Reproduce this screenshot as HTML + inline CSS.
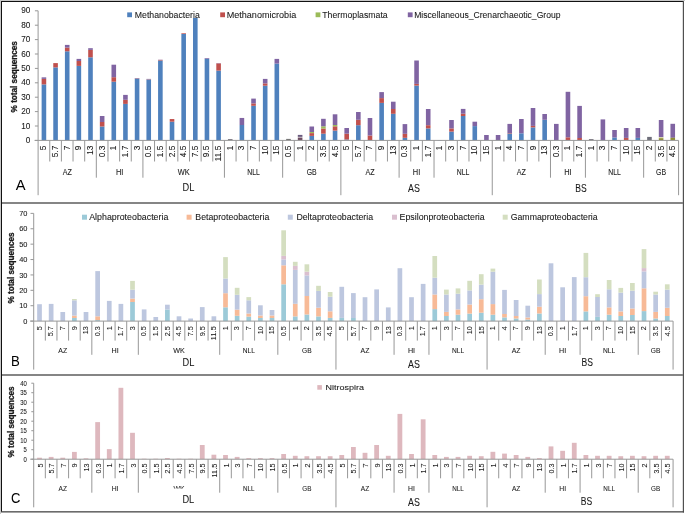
<!DOCTYPE html>
<html><head><meta charset="utf-8"><style>
html,body{margin:0;padding:0;background:#fff;}
svg{display:block;will-change:transform;}
text{font-family:"Liberation Sans", sans-serif;}
</style></head><body>
<svg width="685" height="514" viewBox="0 0 685 514">
<defs><clipPath id="wkclip" clipPathUnits="userSpaceOnUse"><rect x="160" y="480" width="40" height="8.6"/></clipPath></defs>
<rect x="0" y="0" width="685" height="514" fill="#fff"/>
<rect x="41.62" y="84.40" width="4.60" height="56.00" fill="#4F81BD"/>
<rect x="41.62" y="78.90" width="4.60" height="5.50" fill="#C0504D"/>
<rect x="41.62" y="77.35" width="4.60" height="1.55" fill="#8064A2"/>
<rect x="53.27" y="67.40" width="4.60" height="73.00" fill="#4F81BD"/>
<rect x="53.27" y="63.10" width="4.60" height="4.30" fill="#C0504D"/>
<rect x="64.91" y="51.30" width="4.60" height="89.10" fill="#4F81BD"/>
<rect x="64.91" y="47.60" width="4.60" height="3.70" fill="#C0504D"/>
<rect x="64.91" y="44.90" width="4.60" height="2.70" fill="#8064A2"/>
<rect x="76.56" y="65.90" width="4.60" height="74.50" fill="#4F81BD"/>
<rect x="76.56" y="61.00" width="4.60" height="4.90" fill="#C0504D"/>
<rect x="76.56" y="58.90" width="4.60" height="2.10" fill="#8064A2"/>
<rect x="88.20" y="57.30" width="4.60" height="83.10" fill="#4F81BD"/>
<rect x="88.20" y="49.90" width="4.60" height="7.40" fill="#C0504D"/>
<rect x="88.20" y="48.20" width="4.60" height="1.70" fill="#8064A2"/>
<rect x="99.85" y="126.50" width="4.60" height="13.90" fill="#4F81BD"/>
<rect x="99.85" y="122.00" width="4.60" height="4.50" fill="#C0504D"/>
<rect x="99.85" y="116.00" width="4.60" height="6.00" fill="#8064A2"/>
<rect x="111.49" y="81.70" width="4.60" height="58.70" fill="#4F81BD"/>
<rect x="111.49" y="77.20" width="4.60" height="4.50" fill="#C0504D"/>
<rect x="111.49" y="64.70" width="4.60" height="12.50" fill="#8064A2"/>
<rect x="123.14" y="103.90" width="4.60" height="36.50" fill="#4F81BD"/>
<rect x="123.14" y="99.80" width="4.60" height="4.10" fill="#C0504D"/>
<rect x="123.14" y="94.90" width="4.60" height="4.90" fill="#8064A2"/>
<rect x="134.78" y="78.60" width="4.60" height="61.80" fill="#4F81BD"/>
<rect x="134.78" y="78.30" width="4.60" height="0.30" fill="#C0504D"/>
<rect x="134.78" y="78.00" width="4.60" height="0.30" fill="#8064A2"/>
<rect x="146.43" y="79.50" width="4.60" height="60.90" fill="#4F81BD"/>
<rect x="146.43" y="79.20" width="4.60" height="0.30" fill="#C0504D"/>
<rect x="146.43" y="78.90" width="4.60" height="0.30" fill="#8064A2"/>
<rect x="158.07" y="60.50" width="4.60" height="79.90" fill="#4F81BD"/>
<rect x="158.07" y="59.90" width="4.60" height="0.60" fill="#C0504D"/>
<rect x="158.07" y="59.70" width="4.60" height="0.20" fill="#8064A2"/>
<rect x="169.72" y="121.70" width="4.60" height="18.70" fill="#4F81BD"/>
<rect x="169.72" y="119.05" width="4.60" height="2.65" fill="#C0504D"/>
<rect x="181.36" y="34.00" width="4.60" height="106.40" fill="#4F81BD"/>
<rect x="181.36" y="33.30" width="4.60" height="0.70" fill="#C0504D"/>
<rect x="193.01" y="18.00" width="4.60" height="122.40" fill="#4F81BD"/>
<rect x="204.65" y="58.80" width="4.60" height="81.60" fill="#4F81BD"/>
<rect x="204.65" y="58.10" width="4.60" height="0.70" fill="#8064A2"/>
<rect x="216.30" y="70.60" width="4.60" height="69.80" fill="#4F81BD"/>
<rect x="216.30" y="63.40" width="4.60" height="7.20" fill="#C0504D"/>
<rect x="216.30" y="63.10" width="4.60" height="0.30" fill="#8064A2"/>
<rect x="227.94" y="139.10" width="4.60" height="1.30" fill="#77737F"/>
<rect x="239.59" y="125.00" width="4.60" height="15.40" fill="#4F81BD"/>
<rect x="239.59" y="117.95" width="4.60" height="7.05" fill="#8064A2"/>
<rect x="251.23" y="105.80" width="4.60" height="34.60" fill="#4F81BD"/>
<rect x="251.23" y="103.40" width="4.60" height="2.40" fill="#C0504D"/>
<rect x="251.23" y="98.60" width="4.60" height="4.80" fill="#8064A2"/>
<rect x="262.88" y="85.70" width="4.60" height="54.70" fill="#4F81BD"/>
<rect x="262.88" y="83.40" width="4.60" height="2.30" fill="#C0504D"/>
<rect x="262.88" y="78.90" width="4.60" height="4.50" fill="#8064A2"/>
<rect x="274.52" y="63.60" width="4.60" height="76.80" fill="#4F81BD"/>
<rect x="274.52" y="58.90" width="4.60" height="4.70" fill="#8064A2"/>
<rect x="286.17" y="138.90" width="4.60" height="1.50" fill="#737373"/>
<rect x="297.81" y="134.90" width="4.60" height="2.00" fill="#6A5A7E"/>
<rect x="297.81" y="136.90" width="4.60" height="0.80" fill="#CFC2C9"/>
<rect x="297.81" y="137.70" width="4.60" height="2.70" fill="#6E4C62"/>
<rect x="309.46" y="135.90" width="4.60" height="4.50" fill="#4F81BD"/>
<rect x="309.46" y="133.10" width="4.60" height="2.80" fill="#C0504D"/>
<rect x="309.46" y="132.00" width="4.60" height="1.10" fill="#9BBB59"/>
<rect x="309.46" y="126.50" width="4.60" height="5.50" fill="#8064A2"/>
<rect x="321.10" y="133.70" width="4.60" height="6.70" fill="#4F81BD"/>
<rect x="321.10" y="128.50" width="4.60" height="5.20" fill="#C0504D"/>
<rect x="321.10" y="126.30" width="4.60" height="2.20" fill="#9BBB59"/>
<rect x="321.10" y="118.80" width="4.60" height="7.50" fill="#8064A2"/>
<rect x="332.75" y="130.60" width="4.60" height="9.80" fill="#4F81BD"/>
<rect x="332.75" y="126.30" width="4.60" height="4.30" fill="#C0504D"/>
<rect x="332.75" y="125.00" width="4.60" height="1.30" fill="#9BBB59"/>
<rect x="332.75" y="114.30" width="4.60" height="10.70" fill="#8064A2"/>
<rect x="344.39" y="139.50" width="4.60" height="0.90" fill="#4F81BD"/>
<rect x="344.39" y="133.70" width="4.60" height="5.80" fill="#C0504D"/>
<rect x="344.39" y="128.00" width="4.60" height="5.70" fill="#8064A2"/>
<rect x="356.04" y="125.20" width="4.60" height="15.20" fill="#4F81BD"/>
<rect x="356.04" y="119.80" width="4.60" height="5.40" fill="#C0504D"/>
<rect x="356.04" y="112.00" width="4.60" height="7.80" fill="#8064A2"/>
<rect x="367.68" y="140.00" width="4.60" height="0.40" fill="#4F81BD"/>
<rect x="367.68" y="135.50" width="4.60" height="4.50" fill="#C0504D"/>
<rect x="367.68" y="118.00" width="4.60" height="17.50" fill="#8064A2"/>
<rect x="379.33" y="102.90" width="4.60" height="37.50" fill="#4F81BD"/>
<rect x="379.33" y="98.10" width="4.60" height="4.80" fill="#C0504D"/>
<rect x="379.33" y="92.10" width="4.60" height="6.00" fill="#8064A2"/>
<rect x="390.97" y="113.80" width="4.60" height="26.60" fill="#4F81BD"/>
<rect x="390.97" y="109.00" width="4.60" height="4.80" fill="#C0504D"/>
<rect x="390.97" y="101.70" width="4.60" height="7.30" fill="#8064A2"/>
<rect x="402.62" y="137.80" width="4.60" height="2.60" fill="#4F81BD"/>
<rect x="402.62" y="133.80" width="4.60" height="4.00" fill="#C0504D"/>
<rect x="402.62" y="124.10" width="4.60" height="9.70" fill="#8064A2"/>
<rect x="414.26" y="85.60" width="4.60" height="54.80" fill="#4F81BD"/>
<rect x="414.26" y="83.90" width="4.60" height="1.70" fill="#C0504D"/>
<rect x="414.26" y="60.50" width="4.60" height="23.40" fill="#8064A2"/>
<rect x="425.91" y="128.40" width="4.60" height="12.00" fill="#4F81BD"/>
<rect x="425.91" y="125.20" width="4.60" height="3.20" fill="#C0504D"/>
<rect x="425.91" y="109.00" width="4.60" height="16.20" fill="#8064A2"/>
<rect x="437.55" y="140.00" width="4.60" height="0.40" fill="#4F81BD"/>
<rect x="449.20" y="131.60" width="4.60" height="8.80" fill="#4F81BD"/>
<rect x="449.20" y="128.40" width="4.60" height="3.20" fill="#C0504D"/>
<rect x="449.20" y="120.00" width="4.60" height="8.40" fill="#8064A2"/>
<rect x="460.84" y="116.00" width="4.60" height="24.40" fill="#4F81BD"/>
<rect x="460.84" y="113.70" width="4.60" height="2.30" fill="#C0504D"/>
<rect x="460.84" y="108.90" width="4.60" height="4.80" fill="#8064A2"/>
<rect x="472.49" y="126.10" width="4.60" height="14.30" fill="#4F81BD"/>
<rect x="472.49" y="121.70" width="4.60" height="4.40" fill="#8064A2"/>
<rect x="484.13" y="140.00" width="4.60" height="0.40" fill="#4F81BD"/>
<rect x="484.13" y="135.00" width="4.60" height="5.00" fill="#8064A2"/>
<rect x="495.78" y="140.00" width="4.60" height="0.40" fill="#4F81BD"/>
<rect x="495.78" y="135.00" width="4.60" height="5.00" fill="#8064A2"/>
<rect x="507.42" y="133.50" width="4.60" height="6.90" fill="#4F81BD"/>
<rect x="507.42" y="133.00" width="4.60" height="0.50" fill="#C0504D"/>
<rect x="507.42" y="123.90" width="4.60" height="9.10" fill="#8064A2"/>
<rect x="519.07" y="133.30" width="4.60" height="7.10" fill="#4F81BD"/>
<rect x="519.07" y="119.00" width="4.60" height="14.30" fill="#8064A2"/>
<rect x="530.71" y="127.40" width="4.60" height="13.00" fill="#4F81BD"/>
<rect x="530.71" y="125.90" width="4.60" height="1.50" fill="#C0504D"/>
<rect x="530.71" y="108.00" width="4.60" height="17.90" fill="#8064A2"/>
<rect x="542.36" y="119.80" width="4.60" height="20.60" fill="#4F81BD"/>
<rect x="542.36" y="114.00" width="4.60" height="5.80" fill="#8064A2"/>
<rect x="554.00" y="140.00" width="4.60" height="0.40" fill="#4F81BD"/>
<rect x="554.00" y="123.90" width="4.60" height="16.10" fill="#8064A2"/>
<rect x="565.65" y="140.00" width="4.60" height="0.40" fill="#4F81BD"/>
<rect x="565.65" y="137.30" width="4.60" height="2.70" fill="#C0504D"/>
<rect x="565.65" y="91.80" width="4.60" height="45.50" fill="#8064A2"/>
<rect x="577.29" y="140.00" width="4.60" height="0.40" fill="#4F81BD"/>
<rect x="577.29" y="138.00" width="4.60" height="2.00" fill="#C0504D"/>
<rect x="577.29" y="105.90" width="4.60" height="32.10" fill="#8064A2"/>
<rect x="588.94" y="139.10" width="4.60" height="1.30" fill="#77737F"/>
<rect x="600.58" y="140.00" width="4.60" height="0.40" fill="#4F81BD"/>
<rect x="600.58" y="119.40" width="4.60" height="20.60" fill="#8064A2"/>
<rect x="612.23" y="137.50" width="4.60" height="2.90" fill="#4F81BD"/>
<rect x="612.23" y="130.00" width="4.60" height="7.50" fill="#8064A2"/>
<rect x="623.87" y="140.00" width="4.60" height="0.40" fill="#4F81BD"/>
<rect x="623.87" y="137.90" width="4.60" height="2.10" fill="#C0504D"/>
<rect x="623.87" y="128.00" width="4.60" height="9.90" fill="#8064A2"/>
<rect x="635.52" y="137.90" width="4.60" height="2.50" fill="#4F81BD"/>
<rect x="635.52" y="128.00" width="4.60" height="9.90" fill="#8064A2"/>
<rect x="647.16" y="136.90" width="4.60" height="3.50" fill="#6E6E7A"/>
<rect x="658.81" y="120.00" width="4.60" height="17.20" fill="#8064A2"/>
<rect x="658.81" y="137.20" width="4.60" height="1.00" fill="#D5D6A2"/>
<rect x="658.81" y="138.20" width="4.60" height="2.20" fill="#8E8B35"/>
<rect x="670.45" y="123.80" width="4.60" height="14.00" fill="#8064A2"/>
<rect x="670.45" y="137.80" width="4.60" height="2.60" fill="#8E8B35"/>
<rect x="37.60" y="10.80" width="1.00" height="184.40" fill="#989898"/>
<rect x="34.90" y="139.90" width="3.20" height="1.00" fill="#989898"/>
<text x="30.40" y="142.90" font-size="8.2" stroke="#1a1a1a" stroke-width="0.08" text-anchor="end" fill="#1a1a1a">0</text>
<rect x="34.90" y="125.50" width="3.20" height="1.00" fill="#989898"/>
<text x="30.40" y="128.50" font-size="8.2" stroke="#1a1a1a" stroke-width="0.08" text-anchor="end" fill="#1a1a1a">10</text>
<rect x="34.90" y="111.10" width="3.20" height="1.00" fill="#989898"/>
<text x="30.40" y="114.10" font-size="8.2" stroke="#1a1a1a" stroke-width="0.08" text-anchor="end" fill="#1a1a1a">20</text>
<rect x="34.90" y="96.70" width="3.20" height="1.00" fill="#989898"/>
<text x="30.40" y="99.70" font-size="8.2" stroke="#1a1a1a" stroke-width="0.08" text-anchor="end" fill="#1a1a1a">30</text>
<rect x="34.90" y="82.30" width="3.20" height="1.00" fill="#989898"/>
<text x="30.40" y="85.30" font-size="8.2" stroke="#1a1a1a" stroke-width="0.08" text-anchor="end" fill="#1a1a1a">40</text>
<rect x="34.90" y="67.90" width="3.20" height="1.00" fill="#989898"/>
<text x="30.40" y="70.90" font-size="8.2" stroke="#1a1a1a" stroke-width="0.08" text-anchor="end" fill="#1a1a1a">50</text>
<rect x="34.90" y="53.50" width="3.20" height="1.00" fill="#989898"/>
<text x="30.40" y="56.50" font-size="8.2" stroke="#1a1a1a" stroke-width="0.08" text-anchor="end" fill="#1a1a1a">60</text>
<rect x="34.90" y="39.10" width="3.20" height="1.00" fill="#989898"/>
<text x="30.40" y="42.10" font-size="8.2" stroke="#1a1a1a" stroke-width="0.08" text-anchor="end" fill="#1a1a1a">70</text>
<rect x="34.90" y="24.70" width="3.20" height="1.00" fill="#989898"/>
<text x="30.40" y="27.70" font-size="8.2" stroke="#1a1a1a" stroke-width="0.08" text-anchor="end" fill="#1a1a1a">80</text>
<rect x="34.90" y="10.30" width="3.20" height="1.00" fill="#989898"/>
<text x="30.40" y="13.30" font-size="8.2" stroke="#1a1a1a" stroke-width="0.08" text-anchor="end" fill="#1a1a1a">90</text>
<rect x="34.60" y="139.90" width="643.98" height="1.00" fill="#989898"/>
<rect x="49.25" y="140.40" width="1.00" height="21.10" fill="#989898"/>
<rect x="60.89" y="140.40" width="1.00" height="21.10" fill="#989898"/>
<rect x="72.53" y="140.40" width="1.00" height="21.10" fill="#989898"/>
<rect x="84.18" y="140.40" width="1.00" height="21.10" fill="#989898"/>
<rect x="95.82" y="140.40" width="1.00" height="37.30" fill="#989898"/>
<rect x="107.47" y="140.40" width="1.00" height="21.10" fill="#989898"/>
<rect x="119.12" y="140.40" width="1.00" height="21.10" fill="#989898"/>
<rect x="130.76" y="140.40" width="1.00" height="21.10" fill="#989898"/>
<rect x="142.41" y="140.40" width="1.00" height="37.30" fill="#989898"/>
<rect x="154.05" y="140.40" width="1.00" height="21.10" fill="#989898"/>
<rect x="165.69" y="140.40" width="1.00" height="21.10" fill="#989898"/>
<rect x="177.34" y="140.40" width="1.00" height="21.10" fill="#989898"/>
<rect x="188.98" y="140.40" width="1.00" height="21.10" fill="#989898"/>
<rect x="200.63" y="140.40" width="1.00" height="21.10" fill="#989898"/>
<rect x="212.27" y="140.40" width="1.00" height="21.10" fill="#989898"/>
<rect x="223.92" y="140.40" width="1.00" height="37.30" fill="#989898"/>
<rect x="235.56" y="140.40" width="1.00" height="21.10" fill="#989898"/>
<rect x="247.21" y="140.40" width="1.00" height="21.10" fill="#989898"/>
<rect x="258.86" y="140.40" width="1.00" height="21.10" fill="#989898"/>
<rect x="270.50" y="140.40" width="1.00" height="21.10" fill="#989898"/>
<rect x="282.14" y="140.40" width="1.00" height="37.30" fill="#989898"/>
<rect x="293.79" y="140.40" width="1.00" height="21.10" fill="#989898"/>
<rect x="305.44" y="140.40" width="1.00" height="21.10" fill="#989898"/>
<rect x="317.08" y="140.40" width="1.00" height="21.10" fill="#989898"/>
<rect x="328.73" y="140.40" width="1.00" height="21.10" fill="#989898"/>
<rect x="340.37" y="140.40" width="1.00" height="54.80" fill="#989898"/>
<rect x="352.01" y="140.40" width="1.00" height="21.10" fill="#989898"/>
<rect x="363.66" y="140.40" width="1.00" height="21.10" fill="#989898"/>
<rect x="375.31" y="140.40" width="1.00" height="21.10" fill="#989898"/>
<rect x="386.95" y="140.40" width="1.00" height="21.10" fill="#989898"/>
<rect x="398.60" y="140.40" width="1.00" height="37.30" fill="#989898"/>
<rect x="410.24" y="140.40" width="1.00" height="21.10" fill="#989898"/>
<rect x="421.88" y="140.40" width="1.00" height="21.10" fill="#989898"/>
<rect x="433.53" y="140.40" width="1.00" height="37.30" fill="#989898"/>
<rect x="445.18" y="140.40" width="1.00" height="21.10" fill="#989898"/>
<rect x="456.82" y="140.40" width="1.00" height="21.10" fill="#989898"/>
<rect x="468.47" y="140.40" width="1.00" height="21.10" fill="#989898"/>
<rect x="480.11" y="140.40" width="1.00" height="21.10" fill="#989898"/>
<rect x="491.75" y="140.40" width="1.00" height="54.80" fill="#989898"/>
<rect x="503.40" y="140.40" width="1.00" height="21.10" fill="#989898"/>
<rect x="515.04" y="140.40" width="1.00" height="21.10" fill="#989898"/>
<rect x="526.69" y="140.40" width="1.00" height="21.10" fill="#989898"/>
<rect x="538.33" y="140.40" width="1.00" height="21.10" fill="#989898"/>
<rect x="549.98" y="140.40" width="1.00" height="37.30" fill="#989898"/>
<rect x="561.62" y="140.40" width="1.00" height="21.10" fill="#989898"/>
<rect x="573.27" y="140.40" width="1.00" height="21.10" fill="#989898"/>
<rect x="584.91" y="140.40" width="1.00" height="37.30" fill="#989898"/>
<rect x="596.56" y="140.40" width="1.00" height="21.10" fill="#989898"/>
<rect x="608.21" y="140.40" width="1.00" height="21.10" fill="#989898"/>
<rect x="619.85" y="140.40" width="1.00" height="21.10" fill="#989898"/>
<rect x="631.50" y="140.40" width="1.00" height="21.10" fill="#989898"/>
<rect x="643.14" y="140.40" width="1.00" height="37.30" fill="#989898"/>
<rect x="654.78" y="140.40" width="1.00" height="21.10" fill="#989898"/>
<rect x="666.43" y="140.40" width="1.00" height="21.10" fill="#989898"/>
<rect x="678.08" y="140.40" width="1.00" height="54.80" fill="#989898"/>
<text transform="translate(46.42,145.60) rotate(-90)" font-size="8.3" stroke="#1a1a1a" stroke-width="0.08" text-anchor="end" fill="#1a1a1a">5</text>
<text transform="translate(58.07,145.60) rotate(-90)" font-size="8.3" stroke="#1a1a1a" stroke-width="0.08" text-anchor="end" fill="#1a1a1a">5.7</text>
<text transform="translate(69.71,145.60) rotate(-90)" font-size="8.3" stroke="#1a1a1a" stroke-width="0.08" text-anchor="end" fill="#1a1a1a">7</text>
<text transform="translate(81.36,145.60) rotate(-90)" font-size="8.3" stroke="#1a1a1a" stroke-width="0.08" text-anchor="end" fill="#1a1a1a">9</text>
<text transform="translate(93.00,145.60) rotate(-90)" font-size="8.3" stroke="#1a1a1a" stroke-width="0.08" text-anchor="end" fill="#1a1a1a">13</text>
<text transform="translate(104.65,145.60) rotate(-90)" font-size="8.3" stroke="#1a1a1a" stroke-width="0.08" text-anchor="end" fill="#1a1a1a">0.3</text>
<text transform="translate(116.29,145.60) rotate(-90)" font-size="8.3" stroke="#1a1a1a" stroke-width="0.08" text-anchor="end" fill="#1a1a1a">1</text>
<text transform="translate(127.94,145.60) rotate(-90)" font-size="8.3" stroke="#1a1a1a" stroke-width="0.08" text-anchor="end" fill="#1a1a1a">1.7</text>
<text transform="translate(139.58,145.60) rotate(-90)" font-size="8.3" stroke="#1a1a1a" stroke-width="0.08" text-anchor="end" fill="#1a1a1a">3</text>
<text transform="translate(151.23,145.60) rotate(-90)" font-size="8.3" stroke="#1a1a1a" stroke-width="0.08" text-anchor="end" fill="#1a1a1a">0.5</text>
<text transform="translate(162.87,145.60) rotate(-90)" font-size="8.3" stroke="#1a1a1a" stroke-width="0.08" text-anchor="end" fill="#1a1a1a">1.5</text>
<text transform="translate(174.52,145.60) rotate(-90)" font-size="8.3" stroke="#1a1a1a" stroke-width="0.08" text-anchor="end" fill="#1a1a1a">2.5</text>
<text transform="translate(186.16,145.60) rotate(-90)" font-size="8.3" stroke="#1a1a1a" stroke-width="0.08" text-anchor="end" fill="#1a1a1a">4.5</text>
<text transform="translate(197.81,145.60) rotate(-90)" font-size="8.3" stroke="#1a1a1a" stroke-width="0.08" text-anchor="end" fill="#1a1a1a">7.5</text>
<text transform="translate(209.45,145.60) rotate(-90)" font-size="8.3" stroke="#1a1a1a" stroke-width="0.08" text-anchor="end" fill="#1a1a1a">9.5</text>
<text transform="translate(221.10,145.60) rotate(-90)" font-size="8.3" stroke="#1a1a1a" stroke-width="0.08" text-anchor="end" fill="#1a1a1a">11.5</text>
<text transform="translate(232.74,145.60) rotate(-90)" font-size="8.3" stroke="#1a1a1a" stroke-width="0.08" text-anchor="end" fill="#1a1a1a">1</text>
<text transform="translate(244.39,145.60) rotate(-90)" font-size="8.3" stroke="#1a1a1a" stroke-width="0.08" text-anchor="end" fill="#1a1a1a">3</text>
<text transform="translate(256.03,145.60) rotate(-90)" font-size="8.3" stroke="#1a1a1a" stroke-width="0.08" text-anchor="end" fill="#1a1a1a">7</text>
<text transform="translate(267.68,145.60) rotate(-90)" font-size="8.3" stroke="#1a1a1a" stroke-width="0.08" text-anchor="end" fill="#1a1a1a">10</text>
<text transform="translate(279.32,145.60) rotate(-90)" font-size="8.3" stroke="#1a1a1a" stroke-width="0.08" text-anchor="end" fill="#1a1a1a">15</text>
<text transform="translate(290.97,145.60) rotate(-90)" font-size="8.3" stroke="#1a1a1a" stroke-width="0.08" text-anchor="end" fill="#1a1a1a">0.5</text>
<text transform="translate(302.61,145.60) rotate(-90)" font-size="8.3" stroke="#1a1a1a" stroke-width="0.08" text-anchor="end" fill="#1a1a1a">1</text>
<text transform="translate(314.26,145.60) rotate(-90)" font-size="8.3" stroke="#1a1a1a" stroke-width="0.08" text-anchor="end" fill="#1a1a1a">2</text>
<text transform="translate(325.90,145.60) rotate(-90)" font-size="8.3" stroke="#1a1a1a" stroke-width="0.08" text-anchor="end" fill="#1a1a1a">3.5</text>
<text transform="translate(337.55,145.60) rotate(-90)" font-size="8.3" stroke="#1a1a1a" stroke-width="0.08" text-anchor="end" fill="#1a1a1a">4.5</text>
<text transform="translate(349.19,145.60) rotate(-90)" font-size="8.3" stroke="#1a1a1a" stroke-width="0.08" text-anchor="end" fill="#1a1a1a">5</text>
<text transform="translate(360.84,145.60) rotate(-90)" font-size="8.3" stroke="#1a1a1a" stroke-width="0.08" text-anchor="end" fill="#1a1a1a">5.7</text>
<text transform="translate(372.48,145.60) rotate(-90)" font-size="8.3" stroke="#1a1a1a" stroke-width="0.08" text-anchor="end" fill="#1a1a1a">7</text>
<text transform="translate(384.13,145.60) rotate(-90)" font-size="8.3" stroke="#1a1a1a" stroke-width="0.08" text-anchor="end" fill="#1a1a1a">9</text>
<text transform="translate(395.77,145.60) rotate(-90)" font-size="8.3" stroke="#1a1a1a" stroke-width="0.08" text-anchor="end" fill="#1a1a1a">13</text>
<text transform="translate(407.42,145.60) rotate(-90)" font-size="8.3" stroke="#1a1a1a" stroke-width="0.08" text-anchor="end" fill="#1a1a1a">0.3</text>
<text transform="translate(419.06,145.60) rotate(-90)" font-size="8.3" stroke="#1a1a1a" stroke-width="0.08" text-anchor="end" fill="#1a1a1a">1</text>
<text transform="translate(430.71,145.60) rotate(-90)" font-size="8.3" stroke="#1a1a1a" stroke-width="0.08" text-anchor="end" fill="#1a1a1a">1.7</text>
<text transform="translate(442.35,145.60) rotate(-90)" font-size="8.3" stroke="#1a1a1a" stroke-width="0.08" text-anchor="end" fill="#1a1a1a">1</text>
<text transform="translate(454.00,145.60) rotate(-90)" font-size="8.3" stroke="#1a1a1a" stroke-width="0.08" text-anchor="end" fill="#1a1a1a">3</text>
<text transform="translate(465.64,145.60) rotate(-90)" font-size="8.3" stroke="#1a1a1a" stroke-width="0.08" text-anchor="end" fill="#1a1a1a">7</text>
<text transform="translate(477.29,145.60) rotate(-90)" font-size="8.3" stroke="#1a1a1a" stroke-width="0.08" text-anchor="end" fill="#1a1a1a">10</text>
<text transform="translate(488.93,145.60) rotate(-90)" font-size="8.3" stroke="#1a1a1a" stroke-width="0.08" text-anchor="end" fill="#1a1a1a">15</text>
<text transform="translate(500.58,145.60) rotate(-90)" font-size="8.3" stroke="#1a1a1a" stroke-width="0.08" text-anchor="end" fill="#1a1a1a">1</text>
<text transform="translate(512.22,145.60) rotate(-90)" font-size="8.3" stroke="#1a1a1a" stroke-width="0.08" text-anchor="end" fill="#1a1a1a">4</text>
<text transform="translate(523.87,145.60) rotate(-90)" font-size="8.3" stroke="#1a1a1a" stroke-width="0.08" text-anchor="end" fill="#1a1a1a">7</text>
<text transform="translate(535.51,145.60) rotate(-90)" font-size="8.3" stroke="#1a1a1a" stroke-width="0.08" text-anchor="end" fill="#1a1a1a">9</text>
<text transform="translate(547.16,145.60) rotate(-90)" font-size="8.3" stroke="#1a1a1a" stroke-width="0.08" text-anchor="end" fill="#1a1a1a">13</text>
<text transform="translate(558.80,145.60) rotate(-90)" font-size="8.3" stroke="#1a1a1a" stroke-width="0.08" text-anchor="end" fill="#1a1a1a">0.3</text>
<text transform="translate(570.45,145.60) rotate(-90)" font-size="8.3" stroke="#1a1a1a" stroke-width="0.08" text-anchor="end" fill="#1a1a1a">1</text>
<text transform="translate(582.09,145.60) rotate(-90)" font-size="8.3" stroke="#1a1a1a" stroke-width="0.08" text-anchor="end" fill="#1a1a1a">1.7</text>
<text transform="translate(593.74,145.60) rotate(-90)" font-size="8.3" stroke="#1a1a1a" stroke-width="0.08" text-anchor="end" fill="#1a1a1a">1</text>
<text transform="translate(605.38,145.60) rotate(-90)" font-size="8.3" stroke="#1a1a1a" stroke-width="0.08" text-anchor="end" fill="#1a1a1a">3</text>
<text transform="translate(617.03,145.60) rotate(-90)" font-size="8.3" stroke="#1a1a1a" stroke-width="0.08" text-anchor="end" fill="#1a1a1a">7</text>
<text transform="translate(628.67,145.60) rotate(-90)" font-size="8.3" stroke="#1a1a1a" stroke-width="0.08" text-anchor="end" fill="#1a1a1a">10</text>
<text transform="translate(640.32,145.60) rotate(-90)" font-size="8.3" stroke="#1a1a1a" stroke-width="0.08" text-anchor="end" fill="#1a1a1a">15</text>
<text transform="translate(651.96,145.60) rotate(-90)" font-size="8.3" stroke="#1a1a1a" stroke-width="0.08" text-anchor="end" fill="#1a1a1a">2</text>
<text transform="translate(663.61,145.60) rotate(-90)" font-size="8.3" stroke="#1a1a1a" stroke-width="0.08" text-anchor="end" fill="#1a1a1a">3.5</text>
<text transform="translate(675.25,145.60) rotate(-90)" font-size="8.3" stroke="#1a1a1a" stroke-width="0.08" text-anchor="end" fill="#1a1a1a">4.5</text>
<text x="67.21" y="174.80" font-size="8.2" stroke="#1a1a1a" stroke-width="0.08" text-anchor="middle" textLength="9.15" lengthAdjust="spacingAndGlyphs" fill="#1a1a1a">AZ</text>
<text x="119.62" y="174.80" font-size="8.2" stroke="#1a1a1a" stroke-width="0.08" text-anchor="middle" textLength="7.44" lengthAdjust="spacingAndGlyphs" fill="#1a1a1a">HI</text>
<text x="183.66" y="174.80" font-size="8.2" stroke="#1a1a1a" stroke-width="0.08" text-anchor="middle" textLength="11.99" lengthAdjust="spacingAndGlyphs" fill="#1a1a1a">WK</text>
<text x="253.53" y="174.80" font-size="8.2" stroke="#1a1a1a" stroke-width="0.08" text-anchor="middle" textLength="12.63" lengthAdjust="spacingAndGlyphs" fill="#1a1a1a">NLL</text>
<text x="311.76" y="174.80" font-size="8.2" stroke="#1a1a1a" stroke-width="0.08" text-anchor="middle" textLength="9.99" lengthAdjust="spacingAndGlyphs" fill="#1a1a1a">GB</text>
<text x="369.98" y="174.80" font-size="8.2" stroke="#1a1a1a" stroke-width="0.08" text-anchor="middle" textLength="9.15" lengthAdjust="spacingAndGlyphs" fill="#1a1a1a">AZ</text>
<text x="416.56" y="174.80" font-size="8.2" stroke="#1a1a1a" stroke-width="0.08" text-anchor="middle" textLength="7.44" lengthAdjust="spacingAndGlyphs" fill="#1a1a1a">HI</text>
<text x="463.14" y="174.80" font-size="8.2" stroke="#1a1a1a" stroke-width="0.08" text-anchor="middle" textLength="12.63" lengthAdjust="spacingAndGlyphs" fill="#1a1a1a">NLL</text>
<text x="521.37" y="174.80" font-size="8.2" stroke="#1a1a1a" stroke-width="0.08" text-anchor="middle" textLength="9.15" lengthAdjust="spacingAndGlyphs" fill="#1a1a1a">AZ</text>
<text x="567.95" y="174.80" font-size="8.2" stroke="#1a1a1a" stroke-width="0.08" text-anchor="middle" textLength="7.44" lengthAdjust="spacingAndGlyphs" fill="#1a1a1a">HI</text>
<text x="614.53" y="174.80" font-size="8.2" stroke="#1a1a1a" stroke-width="0.08" text-anchor="middle" textLength="12.63" lengthAdjust="spacingAndGlyphs" fill="#1a1a1a">NLL</text>
<text x="661.11" y="174.80" font-size="8.2" stroke="#1a1a1a" stroke-width="0.08" text-anchor="middle" textLength="9.99" lengthAdjust="spacingAndGlyphs" fill="#1a1a1a">GB</text>
<text x="188.40" y="191.30" font-size="10" stroke="#1a1a1a" stroke-width="0.08" text-anchor="middle" textLength="11.8" lengthAdjust="spacingAndGlyphs" fill="#1a1a1a">DL</text>
<text x="413.90" y="191.60" font-size="10" stroke="#1a1a1a" stroke-width="0.08" text-anchor="middle" textLength="11.83" lengthAdjust="spacingAndGlyphs" fill="#1a1a1a">AS</text>
<text x="581.00" y="191.60" font-size="10" stroke="#1a1a1a" stroke-width="0.08" text-anchor="middle" textLength="11.43" lengthAdjust="spacingAndGlyphs" fill="#1a1a1a">BS</text>
<rect x="127.20" y="12.40" width="4.80" height="4.80" fill="#4F81BD"/>
<text x="134.80" y="17.60" font-size="8.5" stroke="#1a1a1a" stroke-width="0.08" textLength="65" lengthAdjust="spacingAndGlyphs" fill="#1a1a1a">Methanobacteria</text>
<rect x="220.20" y="12.40" width="4.80" height="4.80" fill="#C0504D"/>
<text x="226.70" y="17.60" font-size="8.5" stroke="#1a1a1a" stroke-width="0.08" textLength="69.5" lengthAdjust="spacingAndGlyphs" fill="#1a1a1a">Methanomicrobia</text>
<rect x="315.60" y="12.40" width="4.80" height="4.80" fill="#9BBB59"/>
<text x="322.30" y="17.60" font-size="8.5" stroke="#1a1a1a" stroke-width="0.08" textLength="65.4" lengthAdjust="spacingAndGlyphs" fill="#1a1a1a">Thermoplasmata</text>
<rect x="407.80" y="12.40" width="4.80" height="4.80" fill="#8064A2"/>
<text x="414.20" y="17.60" font-size="8.5" stroke="#1a1a1a" stroke-width="0.08" textLength="146.4" lengthAdjust="spacingAndGlyphs" fill="#1a1a1a">Miscellaneous_Crenarchaeotic_Group</text>
<text transform="translate(17.30,76.80) rotate(-90)" font-size="8.8" stroke="#1a1a1a" stroke-width="0.3" font-weight="bold" text-anchor="middle" textLength="71.2" lengthAdjust="spacingAndGlyphs" fill="#1a1a1a">% total sequences</text>
<text x="15.80" y="190.00" font-size="15.4" textLength="9.8" lengthAdjust="spacingAndGlyphs" fill="#000">A</text>
<rect x="37.16" y="304.20" width="4.70" height="16.90" fill="#BDC7DF"/>
<rect x="48.79" y="303.90" width="4.70" height="17.20" fill="#BDC7DF"/>
<rect x="60.41" y="312.00" width="4.70" height="9.10" fill="#BDC7DF"/>
<rect x="72.04" y="318.00" width="4.70" height="3.10" fill="#9CCAD8"/>
<rect x="72.04" y="315.60" width="4.70" height="2.40" fill="#F7BA97"/>
<rect x="72.04" y="300.30" width="4.70" height="15.30" fill="#BDC7DF"/>
<rect x="72.04" y="299.00" width="4.70" height="1.30" fill="#D4DEC0"/>
<rect x="83.66" y="312.00" width="4.70" height="9.10" fill="#BDC7DF"/>
<rect x="95.29" y="320.10" width="4.70" height="1.00" fill="#9CCAD8"/>
<rect x="95.29" y="316.30" width="4.70" height="3.80" fill="#F7BA97"/>
<rect x="95.29" y="271.10" width="4.70" height="45.20" fill="#BDC7DF"/>
<rect x="106.91" y="300.90" width="4.70" height="20.20" fill="#BDC7DF"/>
<rect x="118.54" y="303.90" width="4.70" height="17.20" fill="#BDC7DF"/>
<rect x="130.16" y="302.00" width="4.70" height="19.10" fill="#9CCAD8"/>
<rect x="130.16" y="298.60" width="4.70" height="3.40" fill="#F7BA97"/>
<rect x="130.16" y="289.70" width="4.70" height="8.90" fill="#BDC7DF"/>
<rect x="130.16" y="280.90" width="4.70" height="8.80" fill="#D4DEC0"/>
<rect x="141.79" y="309.40" width="4.70" height="11.70" fill="#BDC7DF"/>
<rect x="153.41" y="317.00" width="4.70" height="4.10" fill="#BDC7DF"/>
<rect x="165.04" y="309.50" width="4.70" height="11.60" fill="#9CCAD8"/>
<rect x="165.04" y="304.70" width="4.70" height="4.80" fill="#BDC7DF"/>
<rect x="176.66" y="316.30" width="4.70" height="4.80" fill="#BDC7DF"/>
<rect x="188.29" y="318.50" width="4.70" height="2.60" fill="#BDC7DF"/>
<rect x="199.91" y="307.10" width="4.70" height="14.00" fill="#BDC7DF"/>
<rect x="211.54" y="316.30" width="4.70" height="4.80" fill="#BDC7DF"/>
<rect x="223.16" y="307.30" width="4.70" height="13.80" fill="#9CCAD8"/>
<rect x="223.16" y="293.20" width="4.70" height="14.10" fill="#F7BA97"/>
<rect x="223.16" y="278.50" width="4.70" height="14.70" fill="#BDC7DF"/>
<rect x="223.16" y="257.10" width="4.70" height="21.40" fill="#D4DEC0"/>
<rect x="234.79" y="315.80" width="4.70" height="5.30" fill="#9CCAD8"/>
<rect x="234.79" y="309.60" width="4.70" height="6.20" fill="#F7BA97"/>
<rect x="234.79" y="294.80" width="4.70" height="14.80" fill="#BDC7DF"/>
<rect x="234.79" y="287.80" width="4.70" height="7.00" fill="#D4DEC0"/>
<rect x="246.41" y="316.60" width="4.70" height="4.50" fill="#9CCAD8"/>
<rect x="246.41" y="313.50" width="4.70" height="3.10" fill="#F7BA97"/>
<rect x="246.41" y="300.30" width="4.70" height="13.20" fill="#BDC7DF"/>
<rect x="246.41" y="297.10" width="4.70" height="3.20" fill="#D4DEC0"/>
<rect x="258.04" y="318.00" width="4.70" height="3.10" fill="#9CCAD8"/>
<rect x="258.04" y="315.50" width="4.70" height="2.50" fill="#F7BA97"/>
<rect x="258.04" y="305.30" width="4.70" height="10.20" fill="#BDC7DF"/>
<rect x="269.66" y="318.00" width="4.70" height="3.10" fill="#9CCAD8"/>
<rect x="269.66" y="315.50" width="4.70" height="2.50" fill="#F7BA97"/>
<rect x="269.66" y="310.00" width="4.70" height="5.50" fill="#BDC7DF"/>
<rect x="281.29" y="284.30" width="4.70" height="36.80" fill="#9CCAD8"/>
<rect x="281.29" y="265.30" width="4.70" height="19.00" fill="#F7BA97"/>
<rect x="281.29" y="259.40" width="4.70" height="5.90" fill="#BDC7DF"/>
<rect x="281.29" y="255.90" width="4.70" height="3.50" fill="#DABFCF"/>
<rect x="281.29" y="230.30" width="4.70" height="25.60" fill="#D4DEC0"/>
<rect x="292.91" y="316.40" width="4.70" height="4.70" fill="#9CCAD8"/>
<rect x="292.91" y="303.80" width="4.70" height="12.60" fill="#F7BA97"/>
<rect x="292.91" y="269.90" width="4.70" height="33.90" fill="#BDC7DF"/>
<rect x="292.91" y="265.90" width="4.70" height="4.00" fill="#DABFCF"/>
<rect x="292.91" y="261.80" width="4.70" height="4.10" fill="#D4DEC0"/>
<rect x="304.54" y="314.50" width="4.70" height="6.60" fill="#9CCAD8"/>
<rect x="304.54" y="296.00" width="4.70" height="18.50" fill="#F7BA97"/>
<rect x="304.54" y="275.40" width="4.70" height="20.60" fill="#BDC7DF"/>
<rect x="304.54" y="271.70" width="4.70" height="3.70" fill="#DABFCF"/>
<rect x="304.54" y="264.30" width="4.70" height="7.40" fill="#D4DEC0"/>
<rect x="316.16" y="316.40" width="4.70" height="4.70" fill="#9CCAD8"/>
<rect x="316.16" y="307.70" width="4.70" height="8.70" fill="#F7BA97"/>
<rect x="316.16" y="290.90" width="4.70" height="16.80" fill="#BDC7DF"/>
<rect x="316.16" y="285.80" width="4.70" height="5.10" fill="#D4DEC0"/>
<rect x="327.79" y="317.90" width="4.70" height="3.20" fill="#9CCAD8"/>
<rect x="327.79" y="311.30" width="4.70" height="6.60" fill="#F7BA97"/>
<rect x="327.79" y="296.70" width="4.70" height="14.60" fill="#BDC7DF"/>
<rect x="327.79" y="292.00" width="4.70" height="4.70" fill="#D4DEC0"/>
<rect x="339.41" y="317.90" width="4.70" height="3.20" fill="#9CCAD8"/>
<rect x="339.41" y="286.80" width="4.70" height="31.10" fill="#BDC7DF"/>
<rect x="351.04" y="318.00" width="4.70" height="3.10" fill="#9CCAD8"/>
<rect x="351.04" y="293.10" width="4.70" height="24.90" fill="#BDC7DF"/>
<rect x="362.66" y="297.20" width="4.70" height="23.90" fill="#BDC7DF"/>
<rect x="374.29" y="289.40" width="4.70" height="31.70" fill="#BDC7DF"/>
<rect x="385.91" y="307.40" width="4.70" height="13.70" fill="#BDC7DF"/>
<rect x="397.54" y="268.20" width="4.70" height="52.90" fill="#BDC7DF"/>
<rect x="409.16" y="297.20" width="4.70" height="23.90" fill="#BDC7DF"/>
<rect x="420.79" y="283.90" width="4.70" height="37.20" fill="#BDC7DF"/>
<rect x="432.41" y="309.10" width="4.70" height="12.00" fill="#9CCAD8"/>
<rect x="432.41" y="294.50" width="4.70" height="14.60" fill="#F7BA97"/>
<rect x="432.41" y="277.70" width="4.70" height="16.80" fill="#BDC7DF"/>
<rect x="432.41" y="256.00" width="4.70" height="21.70" fill="#D4DEC0"/>
<rect x="444.04" y="316.00" width="4.70" height="5.10" fill="#9CCAD8"/>
<rect x="444.04" y="311.90" width="4.70" height="4.10" fill="#F7BA97"/>
<rect x="444.04" y="294.50" width="4.70" height="17.40" fill="#BDC7DF"/>
<rect x="444.04" y="289.60" width="4.70" height="4.90" fill="#D4DEC0"/>
<rect x="455.66" y="314.70" width="4.70" height="6.40" fill="#9CCAD8"/>
<rect x="455.66" y="309.40" width="4.70" height="5.30" fill="#F7BA97"/>
<rect x="455.66" y="293.70" width="4.70" height="15.70" fill="#BDC7DF"/>
<rect x="455.66" y="288.40" width="4.70" height="5.30" fill="#D4DEC0"/>
<rect x="467.29" y="313.60" width="4.70" height="7.50" fill="#9CCAD8"/>
<rect x="467.29" y="304.50" width="4.70" height="9.10" fill="#F7BA97"/>
<rect x="467.29" y="290.40" width="4.70" height="14.10" fill="#BDC7DF"/>
<rect x="467.29" y="280.80" width="4.70" height="9.60" fill="#D4DEC0"/>
<rect x="478.91" y="312.70" width="4.70" height="8.40" fill="#9CCAD8"/>
<rect x="478.91" y="299.20" width="4.70" height="13.50" fill="#F7BA97"/>
<rect x="478.91" y="284.60" width="4.70" height="14.60" fill="#BDC7DF"/>
<rect x="478.91" y="274.20" width="4.70" height="10.40" fill="#D4DEC0"/>
<rect x="490.54" y="314.70" width="4.70" height="6.40" fill="#9CCAD8"/>
<rect x="490.54" y="304.10" width="4.70" height="10.60" fill="#F7BA97"/>
<rect x="490.54" y="271.70" width="4.70" height="32.40" fill="#BDC7DF"/>
<rect x="490.54" y="268.60" width="4.70" height="3.10" fill="#D4DEC0"/>
<rect x="502.16" y="317.40" width="4.70" height="3.70" fill="#9CCAD8"/>
<rect x="502.16" y="314.00" width="4.70" height="3.40" fill="#F7BA97"/>
<rect x="502.16" y="289.90" width="4.70" height="24.10" fill="#BDC7DF"/>
<rect x="513.79" y="318.50" width="4.70" height="2.60" fill="#9CCAD8"/>
<rect x="513.79" y="316.00" width="4.70" height="2.50" fill="#F7BA97"/>
<rect x="513.79" y="300.00" width="4.70" height="16.00" fill="#BDC7DF"/>
<rect x="525.41" y="319.50" width="4.70" height="1.60" fill="#9CCAD8"/>
<rect x="525.41" y="317.50" width="4.70" height="2.00" fill="#F7BA97"/>
<rect x="525.41" y="305.70" width="4.70" height="11.80" fill="#BDC7DF"/>
<rect x="537.04" y="313.50" width="4.70" height="7.60" fill="#9CCAD8"/>
<rect x="537.04" y="306.70" width="4.70" height="6.80" fill="#F7BA97"/>
<rect x="537.04" y="294.10" width="4.70" height="12.60" fill="#BDC7DF"/>
<rect x="537.04" y="279.50" width="4.70" height="14.60" fill="#D4DEC0"/>
<rect x="548.66" y="263.30" width="4.70" height="57.80" fill="#BDC7DF"/>
<rect x="560.29" y="287.30" width="4.70" height="33.80" fill="#BDC7DF"/>
<rect x="571.91" y="277.10" width="4.70" height="44.00" fill="#BDC7DF"/>
<rect x="583.54" y="311.40" width="4.70" height="9.70" fill="#9CCAD8"/>
<rect x="583.54" y="296.20" width="4.70" height="15.20" fill="#F7BA97"/>
<rect x="583.54" y="277.20" width="4.70" height="19.00" fill="#BDC7DF"/>
<rect x="583.54" y="252.90" width="4.70" height="24.30" fill="#D4DEC0"/>
<rect x="595.16" y="316.90" width="4.70" height="4.20" fill="#9CCAD8"/>
<rect x="595.16" y="297.00" width="4.70" height="19.90" fill="#BDC7DF"/>
<rect x="595.16" y="294.20" width="4.70" height="2.80" fill="#D4DEC0"/>
<rect x="606.79" y="314.70" width="4.70" height="6.40" fill="#9CCAD8"/>
<rect x="606.79" y="307.40" width="4.70" height="7.30" fill="#F7BA97"/>
<rect x="606.79" y="289.30" width="4.70" height="18.10" fill="#BDC7DF"/>
<rect x="606.79" y="280.00" width="4.70" height="9.30" fill="#D4DEC0"/>
<rect x="618.41" y="316.00" width="4.70" height="5.10" fill="#9CCAD8"/>
<rect x="618.41" y="311.40" width="4.70" height="4.60" fill="#F7BA97"/>
<rect x="618.41" y="292.60" width="4.70" height="18.80" fill="#BDC7DF"/>
<rect x="618.41" y="287.90" width="4.70" height="4.70" fill="#D4DEC0"/>
<rect x="630.04" y="315.00" width="4.70" height="6.10" fill="#9CCAD8"/>
<rect x="630.04" y="308.50" width="4.70" height="6.50" fill="#F7BA97"/>
<rect x="630.04" y="290.70" width="4.70" height="17.80" fill="#BDC7DF"/>
<rect x="630.04" y="283.00" width="4.70" height="7.70" fill="#D4DEC0"/>
<rect x="641.66" y="311.10" width="4.70" height="10.00" fill="#9CCAD8"/>
<rect x="641.66" y="288.30" width="4.70" height="22.80" fill="#F7BA97"/>
<rect x="641.66" y="271.40" width="4.70" height="16.90" fill="#BDC7DF"/>
<rect x="641.66" y="268.10" width="4.70" height="3.30" fill="#DABFCF"/>
<rect x="641.66" y="249.10" width="4.70" height="19.00" fill="#D4DEC0"/>
<rect x="653.29" y="318.50" width="4.70" height="2.60" fill="#9CCAD8"/>
<rect x="653.29" y="311.90" width="4.70" height="6.60" fill="#F7BA97"/>
<rect x="653.29" y="294.50" width="4.70" height="17.40" fill="#BDC7DF"/>
<rect x="653.29" y="291.70" width="4.70" height="2.80" fill="#D4DEC0"/>
<rect x="664.91" y="316.00" width="4.70" height="5.10" fill="#9CCAD8"/>
<rect x="664.91" y="307.80" width="4.70" height="8.20" fill="#F7BA97"/>
<rect x="664.91" y="289.60" width="4.70" height="18.20" fill="#BDC7DF"/>
<rect x="664.91" y="284.30" width="4.70" height="5.30" fill="#D4DEC0"/>
<rect x="33.20" y="213.37" width="1.00" height="156.23" fill="#989898"/>
<rect x="30.50" y="320.60" width="3.20" height="1.00" fill="#989898"/>
<text x="27.40" y="323.80" font-size="7.4" stroke="#1a1a1a" stroke-width="0.08" text-anchor="end" fill="#1a1a1a">0</text>
<rect x="30.50" y="305.21" width="3.20" height="1.00" fill="#989898"/>
<text x="27.40" y="308.41" font-size="7.4" stroke="#1a1a1a" stroke-width="0.08" text-anchor="end" fill="#1a1a1a">10</text>
<rect x="30.50" y="289.82" width="3.20" height="1.00" fill="#989898"/>
<text x="27.40" y="293.02" font-size="7.4" stroke="#1a1a1a" stroke-width="0.08" text-anchor="end" fill="#1a1a1a">20</text>
<rect x="30.50" y="274.43" width="3.20" height="1.00" fill="#989898"/>
<text x="27.40" y="277.63" font-size="7.4" stroke="#1a1a1a" stroke-width="0.08" text-anchor="end" fill="#1a1a1a">30</text>
<rect x="30.50" y="259.04" width="3.20" height="1.00" fill="#989898"/>
<text x="27.40" y="262.24" font-size="7.4" stroke="#1a1a1a" stroke-width="0.08" text-anchor="end" fill="#1a1a1a">40</text>
<rect x="30.50" y="243.65" width="3.20" height="1.00" fill="#989898"/>
<text x="27.40" y="246.85" font-size="7.4" stroke="#1a1a1a" stroke-width="0.08" text-anchor="end" fill="#1a1a1a">50</text>
<rect x="30.50" y="228.26" width="3.20" height="1.00" fill="#989898"/>
<text x="27.40" y="231.46" font-size="7.4" stroke="#1a1a1a" stroke-width="0.08" text-anchor="end" fill="#1a1a1a">60</text>
<rect x="30.50" y="212.87" width="3.20" height="1.00" fill="#989898"/>
<text x="27.40" y="216.07" font-size="7.4" stroke="#1a1a1a" stroke-width="0.08" text-anchor="end" fill="#1a1a1a">70</text>
<rect x="30.20" y="320.60" width="642.88" height="1.00" fill="#989898"/>
<rect x="44.83" y="321.10" width="1.00" height="19.50" fill="#989898"/>
<rect x="56.45" y="321.10" width="1.00" height="19.50" fill="#989898"/>
<rect x="68.08" y="321.10" width="1.00" height="19.50" fill="#989898"/>
<rect x="79.70" y="321.10" width="1.00" height="19.50" fill="#989898"/>
<rect x="91.33" y="321.10" width="1.00" height="33.70" fill="#989898"/>
<rect x="102.95" y="321.10" width="1.00" height="19.50" fill="#989898"/>
<rect x="114.58" y="321.10" width="1.00" height="19.50" fill="#989898"/>
<rect x="126.20" y="321.10" width="1.00" height="19.50" fill="#989898"/>
<rect x="137.82" y="321.10" width="1.00" height="33.70" fill="#989898"/>
<rect x="149.45" y="321.10" width="1.00" height="19.50" fill="#989898"/>
<rect x="161.07" y="321.10" width="1.00" height="19.50" fill="#989898"/>
<rect x="172.70" y="321.10" width="1.00" height="19.50" fill="#989898"/>
<rect x="184.32" y="321.10" width="1.00" height="19.50" fill="#989898"/>
<rect x="195.95" y="321.10" width="1.00" height="19.50" fill="#989898"/>
<rect x="207.57" y="321.10" width="1.00" height="19.50" fill="#989898"/>
<rect x="219.20" y="321.10" width="1.00" height="33.70" fill="#989898"/>
<rect x="230.82" y="321.10" width="1.00" height="19.50" fill="#989898"/>
<rect x="242.45" y="321.10" width="1.00" height="19.50" fill="#989898"/>
<rect x="254.07" y="321.10" width="1.00" height="19.50" fill="#989898"/>
<rect x="265.70" y="321.10" width="1.00" height="19.50" fill="#989898"/>
<rect x="277.32" y="321.10" width="1.00" height="33.70" fill="#989898"/>
<rect x="288.95" y="321.10" width="1.00" height="19.50" fill="#989898"/>
<rect x="300.57" y="321.10" width="1.00" height="19.50" fill="#989898"/>
<rect x="312.20" y="321.10" width="1.00" height="19.50" fill="#989898"/>
<rect x="323.82" y="321.10" width="1.00" height="19.50" fill="#989898"/>
<rect x="335.45" y="321.10" width="1.00" height="48.50" fill="#989898"/>
<rect x="347.07" y="321.10" width="1.00" height="19.50" fill="#989898"/>
<rect x="358.70" y="321.10" width="1.00" height="19.50" fill="#989898"/>
<rect x="370.32" y="321.10" width="1.00" height="19.50" fill="#989898"/>
<rect x="381.95" y="321.10" width="1.00" height="19.50" fill="#989898"/>
<rect x="393.57" y="321.10" width="1.00" height="33.70" fill="#989898"/>
<rect x="405.20" y="321.10" width="1.00" height="19.50" fill="#989898"/>
<rect x="416.82" y="321.10" width="1.00" height="19.50" fill="#989898"/>
<rect x="428.45" y="321.10" width="1.00" height="33.70" fill="#989898"/>
<rect x="440.07" y="321.10" width="1.00" height="19.50" fill="#989898"/>
<rect x="451.70" y="321.10" width="1.00" height="19.50" fill="#989898"/>
<rect x="463.32" y="321.10" width="1.00" height="19.50" fill="#989898"/>
<rect x="474.95" y="321.10" width="1.00" height="19.50" fill="#989898"/>
<rect x="486.57" y="321.10" width="1.00" height="48.50" fill="#989898"/>
<rect x="498.20" y="321.10" width="1.00" height="19.50" fill="#989898"/>
<rect x="509.82" y="321.10" width="1.00" height="19.50" fill="#989898"/>
<rect x="521.45" y="321.10" width="1.00" height="19.50" fill="#989898"/>
<rect x="533.08" y="321.10" width="1.00" height="19.50" fill="#989898"/>
<rect x="544.70" y="321.10" width="1.00" height="33.70" fill="#989898"/>
<rect x="556.33" y="321.10" width="1.00" height="19.50" fill="#989898"/>
<rect x="567.95" y="321.10" width="1.00" height="19.50" fill="#989898"/>
<rect x="579.58" y="321.10" width="1.00" height="33.70" fill="#989898"/>
<rect x="591.20" y="321.10" width="1.00" height="19.50" fill="#989898"/>
<rect x="602.83" y="321.10" width="1.00" height="19.50" fill="#989898"/>
<rect x="614.45" y="321.10" width="1.00" height="19.50" fill="#989898"/>
<rect x="626.08" y="321.10" width="1.00" height="19.50" fill="#989898"/>
<rect x="637.70" y="321.10" width="1.00" height="33.70" fill="#989898"/>
<rect x="649.33" y="321.10" width="1.00" height="19.50" fill="#989898"/>
<rect x="660.95" y="321.10" width="1.00" height="19.50" fill="#989898"/>
<rect x="672.58" y="321.10" width="1.00" height="48.50" fill="#989898"/>
<text transform="translate(41.81,326.20) rotate(-90)" font-size="7.8" stroke="#1a1a1a" stroke-width="0.08" text-anchor="end" textLength="3.99" lengthAdjust="spacingAndGlyphs" fill="#1a1a1a">5</text>
<text transform="translate(53.44,326.20) rotate(-90)" font-size="7.8" stroke="#1a1a1a" stroke-width="0.08" text-anchor="end" textLength="9.97" lengthAdjust="spacingAndGlyphs" fill="#1a1a1a">5.7</text>
<text transform="translate(65.06,326.20) rotate(-90)" font-size="7.8" stroke="#1a1a1a" stroke-width="0.08" text-anchor="end" textLength="3.99" lengthAdjust="spacingAndGlyphs" fill="#1a1a1a">7</text>
<text transform="translate(76.69,326.20) rotate(-90)" font-size="7.8" stroke="#1a1a1a" stroke-width="0.08" text-anchor="end" textLength="3.99" lengthAdjust="spacingAndGlyphs" fill="#1a1a1a">9</text>
<text transform="translate(88.31,326.20) rotate(-90)" font-size="7.8" stroke="#1a1a1a" stroke-width="0.08" text-anchor="end" textLength="7.98" lengthAdjust="spacingAndGlyphs" fill="#1a1a1a">13</text>
<text transform="translate(99.94,326.20) rotate(-90)" font-size="7.8" stroke="#1a1a1a" stroke-width="0.08" text-anchor="end" textLength="9.97" lengthAdjust="spacingAndGlyphs" fill="#1a1a1a">0.3</text>
<text transform="translate(111.56,326.20) rotate(-90)" font-size="7.8" stroke="#1a1a1a" stroke-width="0.08" text-anchor="end" textLength="3.99" lengthAdjust="spacingAndGlyphs" fill="#1a1a1a">1</text>
<text transform="translate(123.19,326.20) rotate(-90)" font-size="7.8" stroke="#1a1a1a" stroke-width="0.08" text-anchor="end" textLength="9.97" lengthAdjust="spacingAndGlyphs" fill="#1a1a1a">1.7</text>
<text transform="translate(134.81,326.20) rotate(-90)" font-size="7.8" stroke="#1a1a1a" stroke-width="0.08" text-anchor="end" textLength="3.99" lengthAdjust="spacingAndGlyphs" fill="#1a1a1a">3</text>
<text transform="translate(146.44,326.20) rotate(-90)" font-size="7.8" stroke="#1a1a1a" stroke-width="0.08" text-anchor="end" textLength="9.97" lengthAdjust="spacingAndGlyphs" fill="#1a1a1a">0.5</text>
<text transform="translate(158.06,326.20) rotate(-90)" font-size="7.8" stroke="#1a1a1a" stroke-width="0.08" text-anchor="end" textLength="9.97" lengthAdjust="spacingAndGlyphs" fill="#1a1a1a">1.5</text>
<text transform="translate(169.69,326.20) rotate(-90)" font-size="7.8" stroke="#1a1a1a" stroke-width="0.08" text-anchor="end" textLength="9.97" lengthAdjust="spacingAndGlyphs" fill="#1a1a1a">2.5</text>
<text transform="translate(181.31,326.20) rotate(-90)" font-size="7.8" stroke="#1a1a1a" stroke-width="0.08" text-anchor="end" textLength="9.97" lengthAdjust="spacingAndGlyphs" fill="#1a1a1a">4.5</text>
<text transform="translate(192.94,326.20) rotate(-90)" font-size="7.8" stroke="#1a1a1a" stroke-width="0.08" text-anchor="end" textLength="9.97" lengthAdjust="spacingAndGlyphs" fill="#1a1a1a">7.5</text>
<text transform="translate(204.56,326.20) rotate(-90)" font-size="7.8" stroke="#1a1a1a" stroke-width="0.08" text-anchor="end" textLength="9.97" lengthAdjust="spacingAndGlyphs" fill="#1a1a1a">9.5</text>
<text transform="translate(216.19,326.20) rotate(-90)" font-size="7.8" stroke="#1a1a1a" stroke-width="0.08" text-anchor="end" textLength="13.96" lengthAdjust="spacingAndGlyphs" fill="#1a1a1a">11.5</text>
<text transform="translate(227.81,326.20) rotate(-90)" font-size="7.8" stroke="#1a1a1a" stroke-width="0.08" text-anchor="end" textLength="3.99" lengthAdjust="spacingAndGlyphs" fill="#1a1a1a">1</text>
<text transform="translate(239.44,326.20) rotate(-90)" font-size="7.8" stroke="#1a1a1a" stroke-width="0.08" text-anchor="end" textLength="3.99" lengthAdjust="spacingAndGlyphs" fill="#1a1a1a">3</text>
<text transform="translate(251.06,326.20) rotate(-90)" font-size="7.8" stroke="#1a1a1a" stroke-width="0.08" text-anchor="end" textLength="3.99" lengthAdjust="spacingAndGlyphs" fill="#1a1a1a">7</text>
<text transform="translate(262.69,326.20) rotate(-90)" font-size="7.8" stroke="#1a1a1a" stroke-width="0.08" text-anchor="end" textLength="7.98" lengthAdjust="spacingAndGlyphs" fill="#1a1a1a">10</text>
<text transform="translate(274.31,326.20) rotate(-90)" font-size="7.8" stroke="#1a1a1a" stroke-width="0.08" text-anchor="end" textLength="7.98" lengthAdjust="spacingAndGlyphs" fill="#1a1a1a">15</text>
<text transform="translate(285.94,326.20) rotate(-90)" font-size="7.8" stroke="#1a1a1a" stroke-width="0.08" text-anchor="end" textLength="9.97" lengthAdjust="spacingAndGlyphs" fill="#1a1a1a">0.5</text>
<text transform="translate(297.56,326.20) rotate(-90)" font-size="7.8" stroke="#1a1a1a" stroke-width="0.08" text-anchor="end" textLength="3.99" lengthAdjust="spacingAndGlyphs" fill="#1a1a1a">1</text>
<text transform="translate(309.19,326.20) rotate(-90)" font-size="7.8" stroke="#1a1a1a" stroke-width="0.08" text-anchor="end" textLength="3.99" lengthAdjust="spacingAndGlyphs" fill="#1a1a1a">2</text>
<text transform="translate(320.81,326.20) rotate(-90)" font-size="7.8" stroke="#1a1a1a" stroke-width="0.08" text-anchor="end" textLength="9.97" lengthAdjust="spacingAndGlyphs" fill="#1a1a1a">3.5</text>
<text transform="translate(332.44,326.20) rotate(-90)" font-size="7.8" stroke="#1a1a1a" stroke-width="0.08" text-anchor="end" textLength="9.97" lengthAdjust="spacingAndGlyphs" fill="#1a1a1a">4.5</text>
<text transform="translate(344.06,326.20) rotate(-90)" font-size="7.8" stroke="#1a1a1a" stroke-width="0.08" text-anchor="end" textLength="3.99" lengthAdjust="spacingAndGlyphs" fill="#1a1a1a">5</text>
<text transform="translate(355.69,326.20) rotate(-90)" font-size="7.8" stroke="#1a1a1a" stroke-width="0.08" text-anchor="end" textLength="9.97" lengthAdjust="spacingAndGlyphs" fill="#1a1a1a">5.7</text>
<text transform="translate(367.31,326.20) rotate(-90)" font-size="7.8" stroke="#1a1a1a" stroke-width="0.08" text-anchor="end" textLength="3.99" lengthAdjust="spacingAndGlyphs" fill="#1a1a1a">7</text>
<text transform="translate(378.94,326.20) rotate(-90)" font-size="7.8" stroke="#1a1a1a" stroke-width="0.08" text-anchor="end" textLength="3.99" lengthAdjust="spacingAndGlyphs" fill="#1a1a1a">9</text>
<text transform="translate(390.56,326.20) rotate(-90)" font-size="7.8" stroke="#1a1a1a" stroke-width="0.08" text-anchor="end" textLength="7.98" lengthAdjust="spacingAndGlyphs" fill="#1a1a1a">13</text>
<text transform="translate(402.19,326.20) rotate(-90)" font-size="7.8" stroke="#1a1a1a" stroke-width="0.08" text-anchor="end" textLength="9.97" lengthAdjust="spacingAndGlyphs" fill="#1a1a1a">0.3</text>
<text transform="translate(413.81,326.20) rotate(-90)" font-size="7.8" stroke="#1a1a1a" stroke-width="0.08" text-anchor="end" textLength="3.99" lengthAdjust="spacingAndGlyphs" fill="#1a1a1a">1</text>
<text transform="translate(425.44,326.20) rotate(-90)" font-size="7.8" stroke="#1a1a1a" stroke-width="0.08" text-anchor="end" textLength="9.97" lengthAdjust="spacingAndGlyphs" fill="#1a1a1a">1.7</text>
<text transform="translate(437.06,326.20) rotate(-90)" font-size="7.8" stroke="#1a1a1a" stroke-width="0.08" text-anchor="end" textLength="3.99" lengthAdjust="spacingAndGlyphs" fill="#1a1a1a">1</text>
<text transform="translate(448.69,326.20) rotate(-90)" font-size="7.8" stroke="#1a1a1a" stroke-width="0.08" text-anchor="end" textLength="3.99" lengthAdjust="spacingAndGlyphs" fill="#1a1a1a">3</text>
<text transform="translate(460.31,326.20) rotate(-90)" font-size="7.8" stroke="#1a1a1a" stroke-width="0.08" text-anchor="end" textLength="3.99" lengthAdjust="spacingAndGlyphs" fill="#1a1a1a">7</text>
<text transform="translate(471.94,326.20) rotate(-90)" font-size="7.8" stroke="#1a1a1a" stroke-width="0.08" text-anchor="end" textLength="7.98" lengthAdjust="spacingAndGlyphs" fill="#1a1a1a">10</text>
<text transform="translate(483.56,326.20) rotate(-90)" font-size="7.8" stroke="#1a1a1a" stroke-width="0.08" text-anchor="end" textLength="7.98" lengthAdjust="spacingAndGlyphs" fill="#1a1a1a">15</text>
<text transform="translate(495.19,326.20) rotate(-90)" font-size="7.8" stroke="#1a1a1a" stroke-width="0.08" text-anchor="end" textLength="3.99" lengthAdjust="spacingAndGlyphs" fill="#1a1a1a">1</text>
<text transform="translate(506.81,326.20) rotate(-90)" font-size="7.8" stroke="#1a1a1a" stroke-width="0.08" text-anchor="end" textLength="3.99" lengthAdjust="spacingAndGlyphs" fill="#1a1a1a">4</text>
<text transform="translate(518.44,326.20) rotate(-90)" font-size="7.8" stroke="#1a1a1a" stroke-width="0.08" text-anchor="end" textLength="3.99" lengthAdjust="spacingAndGlyphs" fill="#1a1a1a">7</text>
<text transform="translate(530.06,326.20) rotate(-90)" font-size="7.8" stroke="#1a1a1a" stroke-width="0.08" text-anchor="end" textLength="3.99" lengthAdjust="spacingAndGlyphs" fill="#1a1a1a">9</text>
<text transform="translate(541.69,326.20) rotate(-90)" font-size="7.8" stroke="#1a1a1a" stroke-width="0.08" text-anchor="end" textLength="7.98" lengthAdjust="spacingAndGlyphs" fill="#1a1a1a">13</text>
<text transform="translate(553.31,326.20) rotate(-90)" font-size="7.8" stroke="#1a1a1a" stroke-width="0.08" text-anchor="end" textLength="9.97" lengthAdjust="spacingAndGlyphs" fill="#1a1a1a">0.3</text>
<text transform="translate(564.94,326.20) rotate(-90)" font-size="7.8" stroke="#1a1a1a" stroke-width="0.08" text-anchor="end" textLength="3.99" lengthAdjust="spacingAndGlyphs" fill="#1a1a1a">1</text>
<text transform="translate(576.56,326.20) rotate(-90)" font-size="7.8" stroke="#1a1a1a" stroke-width="0.08" text-anchor="end" textLength="9.97" lengthAdjust="spacingAndGlyphs" fill="#1a1a1a">1.7</text>
<text transform="translate(588.19,326.20) rotate(-90)" font-size="7.8" stroke="#1a1a1a" stroke-width="0.08" text-anchor="end" textLength="3.99" lengthAdjust="spacingAndGlyphs" fill="#1a1a1a">1</text>
<text transform="translate(599.81,326.20) rotate(-90)" font-size="7.8" stroke="#1a1a1a" stroke-width="0.08" text-anchor="end" textLength="3.99" lengthAdjust="spacingAndGlyphs" fill="#1a1a1a">3</text>
<text transform="translate(611.44,326.20) rotate(-90)" font-size="7.8" stroke="#1a1a1a" stroke-width="0.08" text-anchor="end" textLength="3.99" lengthAdjust="spacingAndGlyphs" fill="#1a1a1a">7</text>
<text transform="translate(623.06,326.20) rotate(-90)" font-size="7.8" stroke="#1a1a1a" stroke-width="0.08" text-anchor="end" textLength="7.98" lengthAdjust="spacingAndGlyphs" fill="#1a1a1a">10</text>
<text transform="translate(634.69,326.20) rotate(-90)" font-size="7.8" stroke="#1a1a1a" stroke-width="0.08" text-anchor="end" textLength="7.98" lengthAdjust="spacingAndGlyphs" fill="#1a1a1a">15</text>
<text transform="translate(646.31,326.20) rotate(-90)" font-size="7.8" stroke="#1a1a1a" stroke-width="0.08" text-anchor="end" textLength="3.99" lengthAdjust="spacingAndGlyphs" fill="#1a1a1a">2</text>
<text transform="translate(657.94,326.20) rotate(-90)" font-size="7.8" stroke="#1a1a1a" stroke-width="0.08" text-anchor="end" textLength="9.97" lengthAdjust="spacingAndGlyphs" fill="#1a1a1a">3.5</text>
<text transform="translate(669.56,326.20) rotate(-90)" font-size="7.8" stroke="#1a1a1a" stroke-width="0.08" text-anchor="end" textLength="9.97" lengthAdjust="spacingAndGlyphs" fill="#1a1a1a">4.5</text>
<text x="62.76" y="352.80" font-size="7.9" stroke="#1a1a1a" stroke-width="0.08" text-anchor="middle" textLength="8.83" lengthAdjust="spacingAndGlyphs" fill="#1a1a1a">AZ</text>
<text x="115.08" y="352.80" font-size="7.9" stroke="#1a1a1a" stroke-width="0.08" text-anchor="middle" textLength="7.17" lengthAdjust="spacingAndGlyphs" fill="#1a1a1a">HI</text>
<text x="179.01" y="352.80" font-size="7.9" stroke="#1a1a1a" stroke-width="0.08" text-anchor="middle" textLength="11.56" lengthAdjust="spacingAndGlyphs" fill="#1a1a1a">WK</text>
<text x="248.76" y="352.80" font-size="7.9" stroke="#1a1a1a" stroke-width="0.08" text-anchor="middle" textLength="12.19" lengthAdjust="spacingAndGlyphs" fill="#1a1a1a">NLL</text>
<text x="306.89" y="352.80" font-size="7.9" stroke="#1a1a1a" stroke-width="0.08" text-anchor="middle" textLength="9.63" lengthAdjust="spacingAndGlyphs" fill="#1a1a1a">GB</text>
<text x="365.01" y="352.80" font-size="7.9" stroke="#1a1a1a" stroke-width="0.08" text-anchor="middle" textLength="8.83" lengthAdjust="spacingAndGlyphs" fill="#1a1a1a">AZ</text>
<text x="411.51" y="352.80" font-size="7.9" stroke="#1a1a1a" stroke-width="0.08" text-anchor="middle" textLength="7.17" lengthAdjust="spacingAndGlyphs" fill="#1a1a1a">HI</text>
<text x="458.01" y="352.80" font-size="7.9" stroke="#1a1a1a" stroke-width="0.08" text-anchor="middle" textLength="12.19" lengthAdjust="spacingAndGlyphs" fill="#1a1a1a">NLL</text>
<text x="516.14" y="352.80" font-size="7.9" stroke="#1a1a1a" stroke-width="0.08" text-anchor="middle" textLength="8.83" lengthAdjust="spacingAndGlyphs" fill="#1a1a1a">AZ</text>
<text x="562.64" y="352.80" font-size="7.9" stroke="#1a1a1a" stroke-width="0.08" text-anchor="middle" textLength="7.17" lengthAdjust="spacingAndGlyphs" fill="#1a1a1a">HI</text>
<text x="609.14" y="352.80" font-size="7.9" stroke="#1a1a1a" stroke-width="0.08" text-anchor="middle" textLength="12.19" lengthAdjust="spacingAndGlyphs" fill="#1a1a1a">NLL</text>
<text x="655.64" y="352.80" font-size="7.9" stroke="#1a1a1a" stroke-width="0.08" text-anchor="middle" textLength="9.63" lengthAdjust="spacingAndGlyphs" fill="#1a1a1a">GB</text>
<text x="188.40" y="366.10" font-size="10" stroke="#1a1a1a" stroke-width="0.08" text-anchor="middle" textLength="11.8" lengthAdjust="spacingAndGlyphs" fill="#1a1a1a">DL</text>
<text x="413.90" y="368.00" font-size="10" stroke="#1a1a1a" stroke-width="0.08" text-anchor="middle" textLength="11.83" lengthAdjust="spacingAndGlyphs" fill="#1a1a1a">AS</text>
<text x="587.20" y="366.10" font-size="10" stroke="#1a1a1a" stroke-width="0.08" text-anchor="middle" textLength="11.43" lengthAdjust="spacingAndGlyphs" fill="#1a1a1a">BS</text>
<rect x="82.00" y="214.70" width="5.00" height="5.00" fill="#9CCAD8"/>
<text x="89.20" y="219.90" font-size="8.2" stroke="#1a1a1a" stroke-width="0.08" textLength="79.2" lengthAdjust="spacingAndGlyphs" fill="#1a1a1a">Alphaproteobacteria</text>
<rect x="186.60" y="214.70" width="5.00" height="5.00" fill="#F7BA97"/>
<text x="195.30" y="219.90" font-size="8.2" stroke="#1a1a1a" stroke-width="0.08" textLength="74" lengthAdjust="spacingAndGlyphs" fill="#1a1a1a">Betaproteobacteria</text>
<rect x="287.80" y="214.70" width="5.00" height="5.00" fill="#BDC7DF"/>
<text x="296.40" y="219.90" font-size="8.2" stroke="#1a1a1a" stroke-width="0.08" textLength="76.7" lengthAdjust="spacingAndGlyphs" fill="#1a1a1a">Deltaproteobacteria</text>
<rect x="392.00" y="214.70" width="5.00" height="5.00" fill="#DABFCF"/>
<text x="399.60" y="219.90" font-size="8.2" stroke="#1a1a1a" stroke-width="0.08" textLength="85.1" lengthAdjust="spacingAndGlyphs" fill="#1a1a1a">Epsilonproteobacteria</text>
<rect x="502.70" y="214.70" width="5.00" height="5.00" fill="#D4DEC0"/>
<text x="510.70" y="219.90" font-size="8.2" stroke="#1a1a1a" stroke-width="0.08" textLength="87" lengthAdjust="spacingAndGlyphs" fill="#1a1a1a">Gammaproteobacteria</text>
<text transform="translate(13.70,268.00) rotate(-90)" font-size="8.8" stroke="#1a1a1a" stroke-width="0.3" font-weight="bold" text-anchor="middle" textLength="71.2" lengthAdjust="spacingAndGlyphs" fill="#1a1a1a">% total sequences</text>
<text x="10.90" y="365.90" font-size="15.4" textLength="8.8" lengthAdjust="spacingAndGlyphs" fill="#000">B</text>
<rect x="37.11" y="457.70" width="4.80" height="1.50" fill="#DEB8BE"/>
<rect x="48.74" y="456.90" width="4.80" height="2.30" fill="#DEB8BE"/>
<rect x="60.36" y="457.70" width="4.80" height="1.50" fill="#DEB8BE"/>
<rect x="71.99" y="451.90" width="4.80" height="7.30" fill="#DEB8BE"/>
<rect x="83.61" y="458.30" width="4.80" height="0.90" fill="#DEB8BE"/>
<rect x="95.24" y="422.10" width="4.80" height="37.10" fill="#DEB8BE"/>
<rect x="106.86" y="449.10" width="4.80" height="10.10" fill="#DEB8BE"/>
<rect x="118.49" y="387.80" width="4.80" height="71.40" fill="#DEB8BE"/>
<rect x="130.11" y="432.80" width="4.80" height="26.40" fill="#DEB8BE"/>
<rect x="141.74" y="458.70" width="4.80" height="0.50" fill="#DEB8BE"/>
<rect x="153.36" y="458.70" width="4.80" height="0.50" fill="#DEB8BE"/>
<rect x="164.99" y="458.00" width="4.80" height="1.20" fill="#DEB8BE"/>
<rect x="176.61" y="458.70" width="4.80" height="0.50" fill="#DEB8BE"/>
<rect x="188.24" y="458.70" width="4.80" height="0.50" fill="#DEB8BE"/>
<rect x="199.86" y="445.00" width="4.80" height="14.20" fill="#DEB8BE"/>
<rect x="211.49" y="454.70" width="4.80" height="4.50" fill="#DEB8BE"/>
<rect x="223.11" y="455.00" width="4.80" height="4.20" fill="#DEB8BE"/>
<rect x="234.74" y="456.90" width="4.80" height="2.30" fill="#DEB8BE"/>
<rect x="246.36" y="458.10" width="4.80" height="1.10" fill="#DEB8BE"/>
<rect x="257.99" y="458.10" width="4.80" height="1.10" fill="#DEB8BE"/>
<rect x="269.61" y="458.10" width="4.80" height="1.10" fill="#DEB8BE"/>
<rect x="281.24" y="454.00" width="4.80" height="5.20" fill="#DEB8BE"/>
<rect x="292.86" y="455.80" width="4.80" height="3.40" fill="#DEB8BE"/>
<rect x="304.49" y="456.20" width="4.80" height="3.00" fill="#DEB8BE"/>
<rect x="316.11" y="456.20" width="4.80" height="3.00" fill="#DEB8BE"/>
<rect x="327.74" y="456.20" width="4.80" height="3.00" fill="#DEB8BE"/>
<rect x="339.36" y="455.00" width="4.80" height="4.20" fill="#DEB8BE"/>
<rect x="350.99" y="447.00" width="4.80" height="12.20" fill="#DEB8BE"/>
<rect x="362.61" y="452.80" width="4.80" height="6.40" fill="#DEB8BE"/>
<rect x="374.24" y="445.00" width="4.80" height="14.20" fill="#DEB8BE"/>
<rect x="385.86" y="455.80" width="4.80" height="3.40" fill="#DEB8BE"/>
<rect x="397.49" y="413.90" width="4.80" height="45.30" fill="#DEB8BE"/>
<rect x="409.11" y="454.00" width="4.80" height="5.20" fill="#DEB8BE"/>
<rect x="420.74" y="419.30" width="4.80" height="39.90" fill="#DEB8BE"/>
<rect x="432.36" y="455.00" width="4.80" height="4.20" fill="#DEB8BE"/>
<rect x="443.99" y="456.90" width="4.80" height="2.30" fill="#DEB8BE"/>
<rect x="455.61" y="456.90" width="4.80" height="2.30" fill="#DEB8BE"/>
<rect x="467.24" y="455.80" width="4.80" height="3.40" fill="#DEB8BE"/>
<rect x="478.86" y="456.20" width="4.80" height="3.00" fill="#DEB8BE"/>
<rect x="490.49" y="451.80" width="4.80" height="7.40" fill="#DEB8BE"/>
<rect x="502.11" y="453.60" width="4.80" height="5.60" fill="#DEB8BE"/>
<rect x="513.74" y="455.00" width="4.80" height="4.20" fill="#DEB8BE"/>
<rect x="525.36" y="456.90" width="4.80" height="2.30" fill="#DEB8BE"/>
<rect x="536.99" y="458.10" width="4.80" height="1.10" fill="#DEB8BE"/>
<rect x="548.61" y="446.40" width="4.80" height="12.80" fill="#DEB8BE"/>
<rect x="560.24" y="450.80" width="4.80" height="8.40" fill="#DEB8BE"/>
<rect x="571.86" y="442.80" width="4.80" height="16.40" fill="#DEB8BE"/>
<rect x="583.49" y="455.00" width="4.80" height="4.20" fill="#DEB8BE"/>
<rect x="595.11" y="455.80" width="4.80" height="3.40" fill="#DEB8BE"/>
<rect x="606.74" y="455.80" width="4.80" height="3.40" fill="#DEB8BE"/>
<rect x="618.36" y="456.20" width="4.80" height="3.00" fill="#DEB8BE"/>
<rect x="629.99" y="455.80" width="4.80" height="3.40" fill="#DEB8BE"/>
<rect x="641.61" y="456.20" width="4.80" height="3.00" fill="#DEB8BE"/>
<rect x="653.24" y="455.80" width="4.80" height="3.40" fill="#DEB8BE"/>
<rect x="664.86" y="455.80" width="4.80" height="3.40" fill="#DEB8BE"/>
<rect x="33.20" y="383.20" width="1.00" height="124.10" fill="#989898"/>
<rect x="31.30" y="458.70" width="2.40" height="1.00" fill="#989898"/>
<text x="26.80" y="461.80" font-size="7.6" stroke="#1a1a1a" stroke-width="0.08" text-anchor="end" textLength="3.3" lengthAdjust="spacingAndGlyphs" fill="#1a1a1a">0</text>
<rect x="31.30" y="449.20" width="2.40" height="1.00" fill="#989898"/>
<text x="26.80" y="452.30" font-size="7.6" stroke="#1a1a1a" stroke-width="0.08" text-anchor="end" textLength="3.3" lengthAdjust="spacingAndGlyphs" fill="#1a1a1a">5</text>
<rect x="31.30" y="439.70" width="2.40" height="1.00" fill="#989898"/>
<text x="26.80" y="442.80" font-size="7.6" stroke="#1a1a1a" stroke-width="0.08" text-anchor="end" textLength="6.6" lengthAdjust="spacingAndGlyphs" fill="#1a1a1a">10</text>
<rect x="31.30" y="430.20" width="2.40" height="1.00" fill="#989898"/>
<text x="26.80" y="433.30" font-size="7.6" stroke="#1a1a1a" stroke-width="0.08" text-anchor="end" textLength="6.6" lengthAdjust="spacingAndGlyphs" fill="#1a1a1a">15</text>
<rect x="31.30" y="420.70" width="2.40" height="1.00" fill="#989898"/>
<text x="26.80" y="423.80" font-size="7.6" stroke="#1a1a1a" stroke-width="0.08" text-anchor="end" textLength="6.6" lengthAdjust="spacingAndGlyphs" fill="#1a1a1a">20</text>
<rect x="31.30" y="411.20" width="2.40" height="1.00" fill="#989898"/>
<text x="26.80" y="414.30" font-size="7.6" stroke="#1a1a1a" stroke-width="0.08" text-anchor="end" textLength="6.6" lengthAdjust="spacingAndGlyphs" fill="#1a1a1a">25</text>
<rect x="31.30" y="401.70" width="2.40" height="1.00" fill="#989898"/>
<text x="26.80" y="404.80" font-size="7.6" stroke="#1a1a1a" stroke-width="0.08" text-anchor="end" textLength="6.6" lengthAdjust="spacingAndGlyphs" fill="#1a1a1a">30</text>
<rect x="31.30" y="392.20" width="2.40" height="1.00" fill="#989898"/>
<text x="26.80" y="395.30" font-size="7.6" stroke="#1a1a1a" stroke-width="0.08" text-anchor="end" textLength="6.6" lengthAdjust="spacingAndGlyphs" fill="#1a1a1a">35</text>
<rect x="31.30" y="382.70" width="2.40" height="1.00" fill="#989898"/>
<text x="26.80" y="385.80" font-size="7.6" stroke="#1a1a1a" stroke-width="0.08" text-anchor="end" textLength="6.6" lengthAdjust="spacingAndGlyphs" fill="#1a1a1a">40</text>
<rect x="30.20" y="458.70" width="642.88" height="1.00" fill="#989898"/>
<rect x="44.83" y="459.20" width="1.00" height="19.10" fill="#989898"/>
<rect x="56.45" y="459.20" width="1.00" height="19.10" fill="#989898"/>
<rect x="68.08" y="459.20" width="1.00" height="19.10" fill="#989898"/>
<rect x="79.70" y="459.20" width="1.00" height="19.10" fill="#989898"/>
<rect x="91.33" y="459.20" width="1.00" height="33.50" fill="#989898"/>
<rect x="102.95" y="459.20" width="1.00" height="19.10" fill="#989898"/>
<rect x="114.58" y="459.20" width="1.00" height="19.10" fill="#989898"/>
<rect x="126.20" y="459.20" width="1.00" height="19.10" fill="#989898"/>
<rect x="137.82" y="459.20" width="1.00" height="33.50" fill="#989898"/>
<rect x="149.45" y="459.20" width="1.00" height="19.10" fill="#989898"/>
<rect x="161.07" y="459.20" width="1.00" height="19.10" fill="#989898"/>
<rect x="172.70" y="459.20" width="1.00" height="19.10" fill="#989898"/>
<rect x="184.32" y="459.20" width="1.00" height="19.10" fill="#989898"/>
<rect x="195.95" y="459.20" width="1.00" height="19.10" fill="#989898"/>
<rect x="207.57" y="459.20" width="1.00" height="19.10" fill="#989898"/>
<rect x="219.20" y="459.20" width="1.00" height="33.50" fill="#989898"/>
<rect x="230.82" y="459.20" width="1.00" height="19.10" fill="#989898"/>
<rect x="242.45" y="459.20" width="1.00" height="19.10" fill="#989898"/>
<rect x="254.07" y="459.20" width="1.00" height="19.10" fill="#989898"/>
<rect x="265.70" y="459.20" width="1.00" height="19.10" fill="#989898"/>
<rect x="277.32" y="459.20" width="1.00" height="33.50" fill="#989898"/>
<rect x="288.95" y="459.20" width="1.00" height="19.10" fill="#989898"/>
<rect x="300.57" y="459.20" width="1.00" height="19.10" fill="#989898"/>
<rect x="312.20" y="459.20" width="1.00" height="19.10" fill="#989898"/>
<rect x="323.82" y="459.20" width="1.00" height="19.10" fill="#989898"/>
<rect x="335.45" y="459.20" width="1.00" height="48.10" fill="#989898"/>
<rect x="347.07" y="459.20" width="1.00" height="19.10" fill="#989898"/>
<rect x="358.70" y="459.20" width="1.00" height="19.10" fill="#989898"/>
<rect x="370.32" y="459.20" width="1.00" height="19.10" fill="#989898"/>
<rect x="381.95" y="459.20" width="1.00" height="19.10" fill="#989898"/>
<rect x="393.57" y="459.20" width="1.00" height="33.50" fill="#989898"/>
<rect x="405.20" y="459.20" width="1.00" height="19.10" fill="#989898"/>
<rect x="416.82" y="459.20" width="1.00" height="19.10" fill="#989898"/>
<rect x="428.45" y="459.20" width="1.00" height="33.50" fill="#989898"/>
<rect x="440.07" y="459.20" width="1.00" height="19.10" fill="#989898"/>
<rect x="451.70" y="459.20" width="1.00" height="19.10" fill="#989898"/>
<rect x="463.32" y="459.20" width="1.00" height="19.10" fill="#989898"/>
<rect x="474.95" y="459.20" width="1.00" height="19.10" fill="#989898"/>
<rect x="486.57" y="459.20" width="1.00" height="48.10" fill="#989898"/>
<rect x="498.20" y="459.20" width="1.00" height="19.10" fill="#989898"/>
<rect x="509.82" y="459.20" width="1.00" height="19.10" fill="#989898"/>
<rect x="521.45" y="459.20" width="1.00" height="19.10" fill="#989898"/>
<rect x="533.08" y="459.20" width="1.00" height="19.10" fill="#989898"/>
<rect x="544.70" y="459.20" width="1.00" height="33.50" fill="#989898"/>
<rect x="556.33" y="459.20" width="1.00" height="19.10" fill="#989898"/>
<rect x="567.95" y="459.20" width="1.00" height="19.10" fill="#989898"/>
<rect x="579.58" y="459.20" width="1.00" height="33.50" fill="#989898"/>
<rect x="591.20" y="459.20" width="1.00" height="19.10" fill="#989898"/>
<rect x="602.83" y="459.20" width="1.00" height="19.10" fill="#989898"/>
<rect x="614.45" y="459.20" width="1.00" height="19.10" fill="#989898"/>
<rect x="626.08" y="459.20" width="1.00" height="19.10" fill="#989898"/>
<rect x="637.70" y="459.20" width="1.00" height="33.50" fill="#989898"/>
<rect x="649.33" y="459.20" width="1.00" height="19.10" fill="#989898"/>
<rect x="660.95" y="459.20" width="1.00" height="19.10" fill="#989898"/>
<rect x="672.58" y="459.20" width="1.00" height="48.10" fill="#989898"/>
<text transform="translate(42.51,463.60) rotate(-90)" font-size="7.8" stroke="#1a1a1a" stroke-width="0.08" text-anchor="end" textLength="3.99" lengthAdjust="spacingAndGlyphs" fill="#1a1a1a">5</text>
<text transform="translate(54.14,463.60) rotate(-90)" font-size="7.8" stroke="#1a1a1a" stroke-width="0.08" text-anchor="end" textLength="9.97" lengthAdjust="spacingAndGlyphs" fill="#1a1a1a">5.7</text>
<text transform="translate(65.76,463.60) rotate(-90)" font-size="7.8" stroke="#1a1a1a" stroke-width="0.08" text-anchor="end" textLength="3.99" lengthAdjust="spacingAndGlyphs" fill="#1a1a1a">7</text>
<text transform="translate(77.39,463.60) rotate(-90)" font-size="7.8" stroke="#1a1a1a" stroke-width="0.08" text-anchor="end" textLength="3.99" lengthAdjust="spacingAndGlyphs" fill="#1a1a1a">9</text>
<text transform="translate(89.01,463.60) rotate(-90)" font-size="7.8" stroke="#1a1a1a" stroke-width="0.08" text-anchor="end" textLength="7.98" lengthAdjust="spacingAndGlyphs" fill="#1a1a1a">13</text>
<text transform="translate(100.64,463.60) rotate(-90)" font-size="7.8" stroke="#1a1a1a" stroke-width="0.08" text-anchor="end" textLength="9.97" lengthAdjust="spacingAndGlyphs" fill="#1a1a1a">0.3</text>
<text transform="translate(112.26,463.60) rotate(-90)" font-size="7.8" stroke="#1a1a1a" stroke-width="0.08" text-anchor="end" textLength="3.99" lengthAdjust="spacingAndGlyphs" fill="#1a1a1a">1</text>
<text transform="translate(123.89,463.60) rotate(-90)" font-size="7.8" stroke="#1a1a1a" stroke-width="0.08" text-anchor="end" textLength="9.97" lengthAdjust="spacingAndGlyphs" fill="#1a1a1a">1.7</text>
<text transform="translate(135.51,463.60) rotate(-90)" font-size="7.8" stroke="#1a1a1a" stroke-width="0.08" text-anchor="end" textLength="3.99" lengthAdjust="spacingAndGlyphs" fill="#1a1a1a">3</text>
<text transform="translate(147.14,463.60) rotate(-90)" font-size="7.8" stroke="#1a1a1a" stroke-width="0.08" text-anchor="end" textLength="9.97" lengthAdjust="spacingAndGlyphs" fill="#1a1a1a">0.5</text>
<text transform="translate(158.76,463.60) rotate(-90)" font-size="7.8" stroke="#1a1a1a" stroke-width="0.08" text-anchor="end" textLength="9.97" lengthAdjust="spacingAndGlyphs" fill="#1a1a1a">1.5</text>
<text transform="translate(170.39,463.60) rotate(-90)" font-size="7.8" stroke="#1a1a1a" stroke-width="0.08" text-anchor="end" textLength="9.97" lengthAdjust="spacingAndGlyphs" fill="#1a1a1a">2.5</text>
<text transform="translate(182.01,463.60) rotate(-90)" font-size="7.8" stroke="#1a1a1a" stroke-width="0.08" text-anchor="end" textLength="9.97" lengthAdjust="spacingAndGlyphs" fill="#1a1a1a">4.5</text>
<text transform="translate(193.64,463.60) rotate(-90)" font-size="7.8" stroke="#1a1a1a" stroke-width="0.08" text-anchor="end" textLength="9.97" lengthAdjust="spacingAndGlyphs" fill="#1a1a1a">7.5</text>
<text transform="translate(205.26,463.60) rotate(-90)" font-size="7.8" stroke="#1a1a1a" stroke-width="0.08" text-anchor="end" textLength="9.97" lengthAdjust="spacingAndGlyphs" fill="#1a1a1a">9.5</text>
<text transform="translate(216.89,463.60) rotate(-90)" font-size="7.8" stroke="#1a1a1a" stroke-width="0.08" text-anchor="end" textLength="13.96" lengthAdjust="spacingAndGlyphs" fill="#1a1a1a">11.5</text>
<text transform="translate(228.51,463.60) rotate(-90)" font-size="7.8" stroke="#1a1a1a" stroke-width="0.08" text-anchor="end" textLength="3.99" lengthAdjust="spacingAndGlyphs" fill="#1a1a1a">1</text>
<text transform="translate(240.14,463.60) rotate(-90)" font-size="7.8" stroke="#1a1a1a" stroke-width="0.08" text-anchor="end" textLength="3.99" lengthAdjust="spacingAndGlyphs" fill="#1a1a1a">3</text>
<text transform="translate(251.76,463.60) rotate(-90)" font-size="7.8" stroke="#1a1a1a" stroke-width="0.08" text-anchor="end" textLength="3.99" lengthAdjust="spacingAndGlyphs" fill="#1a1a1a">7</text>
<text transform="translate(263.39,463.60) rotate(-90)" font-size="7.8" stroke="#1a1a1a" stroke-width="0.08" text-anchor="end" textLength="7.98" lengthAdjust="spacingAndGlyphs" fill="#1a1a1a">10</text>
<text transform="translate(275.01,463.60) rotate(-90)" font-size="7.8" stroke="#1a1a1a" stroke-width="0.08" text-anchor="end" textLength="7.98" lengthAdjust="spacingAndGlyphs" fill="#1a1a1a">15</text>
<text transform="translate(286.64,463.60) rotate(-90)" font-size="7.8" stroke="#1a1a1a" stroke-width="0.08" text-anchor="end" textLength="9.97" lengthAdjust="spacingAndGlyphs" fill="#1a1a1a">0.5</text>
<text transform="translate(298.26,463.60) rotate(-90)" font-size="7.8" stroke="#1a1a1a" stroke-width="0.08" text-anchor="end" textLength="3.99" lengthAdjust="spacingAndGlyphs" fill="#1a1a1a">1</text>
<text transform="translate(309.89,463.60) rotate(-90)" font-size="7.8" stroke="#1a1a1a" stroke-width="0.08" text-anchor="end" textLength="3.99" lengthAdjust="spacingAndGlyphs" fill="#1a1a1a">2</text>
<text transform="translate(321.51,463.60) rotate(-90)" font-size="7.8" stroke="#1a1a1a" stroke-width="0.08" text-anchor="end" textLength="9.97" lengthAdjust="spacingAndGlyphs" fill="#1a1a1a">3.5</text>
<text transform="translate(333.14,463.60) rotate(-90)" font-size="7.8" stroke="#1a1a1a" stroke-width="0.08" text-anchor="end" textLength="9.97" lengthAdjust="spacingAndGlyphs" fill="#1a1a1a">4.5</text>
<text transform="translate(344.76,463.60) rotate(-90)" font-size="7.8" stroke="#1a1a1a" stroke-width="0.08" text-anchor="end" textLength="3.99" lengthAdjust="spacingAndGlyphs" fill="#1a1a1a">5</text>
<text transform="translate(356.39,463.60) rotate(-90)" font-size="7.8" stroke="#1a1a1a" stroke-width="0.08" text-anchor="end" textLength="9.97" lengthAdjust="spacingAndGlyphs" fill="#1a1a1a">5.7</text>
<text transform="translate(368.01,463.60) rotate(-90)" font-size="7.8" stroke="#1a1a1a" stroke-width="0.08" text-anchor="end" textLength="3.99" lengthAdjust="spacingAndGlyphs" fill="#1a1a1a">7</text>
<text transform="translate(379.64,463.60) rotate(-90)" font-size="7.8" stroke="#1a1a1a" stroke-width="0.08" text-anchor="end" textLength="3.99" lengthAdjust="spacingAndGlyphs" fill="#1a1a1a">9</text>
<text transform="translate(391.26,463.60) rotate(-90)" font-size="7.8" stroke="#1a1a1a" stroke-width="0.08" text-anchor="end" textLength="7.98" lengthAdjust="spacingAndGlyphs" fill="#1a1a1a">13</text>
<text transform="translate(402.89,463.60) rotate(-90)" font-size="7.8" stroke="#1a1a1a" stroke-width="0.08" text-anchor="end" textLength="9.97" lengthAdjust="spacingAndGlyphs" fill="#1a1a1a">0.3</text>
<text transform="translate(414.51,463.60) rotate(-90)" font-size="7.8" stroke="#1a1a1a" stroke-width="0.08" text-anchor="end" textLength="3.99" lengthAdjust="spacingAndGlyphs" fill="#1a1a1a">1</text>
<text transform="translate(426.14,463.60) rotate(-90)" font-size="7.8" stroke="#1a1a1a" stroke-width="0.08" text-anchor="end" textLength="9.97" lengthAdjust="spacingAndGlyphs" fill="#1a1a1a">1.7</text>
<text transform="translate(437.76,463.60) rotate(-90)" font-size="7.8" stroke="#1a1a1a" stroke-width="0.08" text-anchor="end" textLength="3.99" lengthAdjust="spacingAndGlyphs" fill="#1a1a1a">1</text>
<text transform="translate(449.39,463.60) rotate(-90)" font-size="7.8" stroke="#1a1a1a" stroke-width="0.08" text-anchor="end" textLength="3.99" lengthAdjust="spacingAndGlyphs" fill="#1a1a1a">3</text>
<text transform="translate(461.01,463.60) rotate(-90)" font-size="7.8" stroke="#1a1a1a" stroke-width="0.08" text-anchor="end" textLength="3.99" lengthAdjust="spacingAndGlyphs" fill="#1a1a1a">7</text>
<text transform="translate(472.64,463.60) rotate(-90)" font-size="7.8" stroke="#1a1a1a" stroke-width="0.08" text-anchor="end" textLength="7.98" lengthAdjust="spacingAndGlyphs" fill="#1a1a1a">10</text>
<text transform="translate(484.26,463.60) rotate(-90)" font-size="7.8" stroke="#1a1a1a" stroke-width="0.08" text-anchor="end" textLength="7.98" lengthAdjust="spacingAndGlyphs" fill="#1a1a1a">15</text>
<text transform="translate(495.89,463.60) rotate(-90)" font-size="7.8" stroke="#1a1a1a" stroke-width="0.08" text-anchor="end" textLength="3.99" lengthAdjust="spacingAndGlyphs" fill="#1a1a1a">1</text>
<text transform="translate(507.51,463.60) rotate(-90)" font-size="7.8" stroke="#1a1a1a" stroke-width="0.08" text-anchor="end" textLength="3.99" lengthAdjust="spacingAndGlyphs" fill="#1a1a1a">4</text>
<text transform="translate(519.14,463.60) rotate(-90)" font-size="7.8" stroke="#1a1a1a" stroke-width="0.08" text-anchor="end" textLength="3.99" lengthAdjust="spacingAndGlyphs" fill="#1a1a1a">7</text>
<text transform="translate(530.76,463.60) rotate(-90)" font-size="7.8" stroke="#1a1a1a" stroke-width="0.08" text-anchor="end" textLength="3.99" lengthAdjust="spacingAndGlyphs" fill="#1a1a1a">9</text>
<text transform="translate(542.39,463.60) rotate(-90)" font-size="7.8" stroke="#1a1a1a" stroke-width="0.08" text-anchor="end" textLength="7.98" lengthAdjust="spacingAndGlyphs" fill="#1a1a1a">13</text>
<text transform="translate(554.01,463.60) rotate(-90)" font-size="7.8" stroke="#1a1a1a" stroke-width="0.08" text-anchor="end" textLength="9.97" lengthAdjust="spacingAndGlyphs" fill="#1a1a1a">0.3</text>
<text transform="translate(565.64,463.60) rotate(-90)" font-size="7.8" stroke="#1a1a1a" stroke-width="0.08" text-anchor="end" textLength="3.99" lengthAdjust="spacingAndGlyphs" fill="#1a1a1a">1</text>
<text transform="translate(577.26,463.60) rotate(-90)" font-size="7.8" stroke="#1a1a1a" stroke-width="0.08" text-anchor="end" textLength="9.97" lengthAdjust="spacingAndGlyphs" fill="#1a1a1a">1.7</text>
<text transform="translate(588.89,463.60) rotate(-90)" font-size="7.8" stroke="#1a1a1a" stroke-width="0.08" text-anchor="end" textLength="3.99" lengthAdjust="spacingAndGlyphs" fill="#1a1a1a">1</text>
<text transform="translate(600.51,463.60) rotate(-90)" font-size="7.8" stroke="#1a1a1a" stroke-width="0.08" text-anchor="end" textLength="3.99" lengthAdjust="spacingAndGlyphs" fill="#1a1a1a">3</text>
<text transform="translate(612.14,463.60) rotate(-90)" font-size="7.8" stroke="#1a1a1a" stroke-width="0.08" text-anchor="end" textLength="3.99" lengthAdjust="spacingAndGlyphs" fill="#1a1a1a">7</text>
<text transform="translate(623.76,463.60) rotate(-90)" font-size="7.8" stroke="#1a1a1a" stroke-width="0.08" text-anchor="end" textLength="7.98" lengthAdjust="spacingAndGlyphs" fill="#1a1a1a">10</text>
<text transform="translate(635.39,463.60) rotate(-90)" font-size="7.8" stroke="#1a1a1a" stroke-width="0.08" text-anchor="end" textLength="7.98" lengthAdjust="spacingAndGlyphs" fill="#1a1a1a">15</text>
<text transform="translate(647.01,463.60) rotate(-90)" font-size="7.8" stroke="#1a1a1a" stroke-width="0.08" text-anchor="end" textLength="3.99" lengthAdjust="spacingAndGlyphs" fill="#1a1a1a">2</text>
<text transform="translate(658.64,463.60) rotate(-90)" font-size="7.8" stroke="#1a1a1a" stroke-width="0.08" text-anchor="end" textLength="9.97" lengthAdjust="spacingAndGlyphs" fill="#1a1a1a">3.5</text>
<text transform="translate(670.26,463.60) rotate(-90)" font-size="7.8" stroke="#1a1a1a" stroke-width="0.08" text-anchor="end" textLength="9.97" lengthAdjust="spacingAndGlyphs" fill="#1a1a1a">4.5</text>
<text x="62.76" y="491.00" font-size="7.6" stroke="#1a1a1a" stroke-width="0.08" text-anchor="middle" textLength="8.4" lengthAdjust="spacingAndGlyphs" fill="#1a1a1a">AZ</text>
<text x="115.08" y="491.00" font-size="7.6" stroke="#1a1a1a" stroke-width="0.08" text-anchor="middle" textLength="6.83" lengthAdjust="spacingAndGlyphs" fill="#1a1a1a">HI</text>
<text x="179.01" y="491.00" font-size="7.6" stroke="#1a1a1a" stroke-width="0.08" text-anchor="middle" textLength="11.0" lengthAdjust="spacingAndGlyphs" fill="#1a1a1a" clip-path="url(#wkclip)">WK</text>
<text x="248.76" y="491.00" font-size="7.6" stroke="#1a1a1a" stroke-width="0.08" text-anchor="middle" textLength="11.59" lengthAdjust="spacingAndGlyphs" fill="#1a1a1a">NLL</text>
<text x="306.89" y="491.00" font-size="7.6" stroke="#1a1a1a" stroke-width="0.08" text-anchor="middle" textLength="9.17" lengthAdjust="spacingAndGlyphs" fill="#1a1a1a">GB</text>
<text x="365.01" y="491.00" font-size="7.6" stroke="#1a1a1a" stroke-width="0.08" text-anchor="middle" textLength="8.4" lengthAdjust="spacingAndGlyphs" fill="#1a1a1a">AZ</text>
<text x="411.51" y="491.00" font-size="7.6" stroke="#1a1a1a" stroke-width="0.08" text-anchor="middle" textLength="6.83" lengthAdjust="spacingAndGlyphs" fill="#1a1a1a">HI</text>
<text x="458.01" y="491.00" font-size="7.6" stroke="#1a1a1a" stroke-width="0.08" text-anchor="middle" textLength="11.59" lengthAdjust="spacingAndGlyphs" fill="#1a1a1a">NLL</text>
<text x="516.14" y="491.00" font-size="7.6" stroke="#1a1a1a" stroke-width="0.08" text-anchor="middle" textLength="8.4" lengthAdjust="spacingAndGlyphs" fill="#1a1a1a">AZ</text>
<text x="562.64" y="491.00" font-size="7.6" stroke="#1a1a1a" stroke-width="0.08" text-anchor="middle" textLength="6.83" lengthAdjust="spacingAndGlyphs" fill="#1a1a1a">HI</text>
<text x="609.14" y="491.00" font-size="7.6" stroke="#1a1a1a" stroke-width="0.08" text-anchor="middle" textLength="11.59" lengthAdjust="spacingAndGlyphs" fill="#1a1a1a">NLL</text>
<text x="655.64" y="491.00" font-size="7.6" stroke="#1a1a1a" stroke-width="0.08" text-anchor="middle" textLength="9.17" lengthAdjust="spacingAndGlyphs" fill="#1a1a1a">GB</text>
<text x="188.30" y="502.70" font-size="10" stroke="#1a1a1a" stroke-width="0.08" text-anchor="middle" textLength="11.8" lengthAdjust="spacingAndGlyphs" fill="#1a1a1a">DL</text>
<text x="413.90" y="505.60" font-size="10" stroke="#1a1a1a" stroke-width="0.08" text-anchor="middle" textLength="11.83" lengthAdjust="spacingAndGlyphs" fill="#1a1a1a">AS</text>
<text x="586.50" y="504.80" font-size="10" stroke="#1a1a1a" stroke-width="0.08" text-anchor="middle" textLength="11.43" lengthAdjust="spacingAndGlyphs" fill="#1a1a1a">BS</text>
<rect x="317.30" y="385.10" width="4.60" height="4.60" fill="#DEB8BE"/>
<text x="325.50" y="390.00" font-size="8" stroke="#1a1a1a" stroke-width="0.08" textLength="38.5" lengthAdjust="spacingAndGlyphs" fill="#1a1a1a">Nitrospira</text>
<text transform="translate(14.20,422.00) rotate(-90)" font-size="8.8" stroke="#1a1a1a" stroke-width="0.3" font-weight="bold" text-anchor="middle" textLength="71.2" lengthAdjust="spacingAndGlyphs" fill="#1a1a1a">% total sequences</text>
<text x="10.90" y="502.90" font-size="15.4" textLength="9.4" lengthAdjust="spacingAndGlyphs" fill="#000">C</text>
<rect x="0" y="0" width="685" height="1" fill="#c8c8c8"/><rect x="0" y="0" width="1" height="514" fill="#c8c8c8"/><rect x="1" y="1" width="683" height="1" fill="#111"/><rect x="1" y="1" width="1" height="511" fill="#111"/><rect x="682.8" y="1" width="1.2" height="511.5" fill="#505050"/><rect x="1" y="511.2" width="683" height="1.3" fill="#484848"/><rect x="2" y="202" width="681" height="2" fill="#858585"/><rect x="2" y="374" width="681" height="2" fill="#858585"/>
</svg>
</body></html>
